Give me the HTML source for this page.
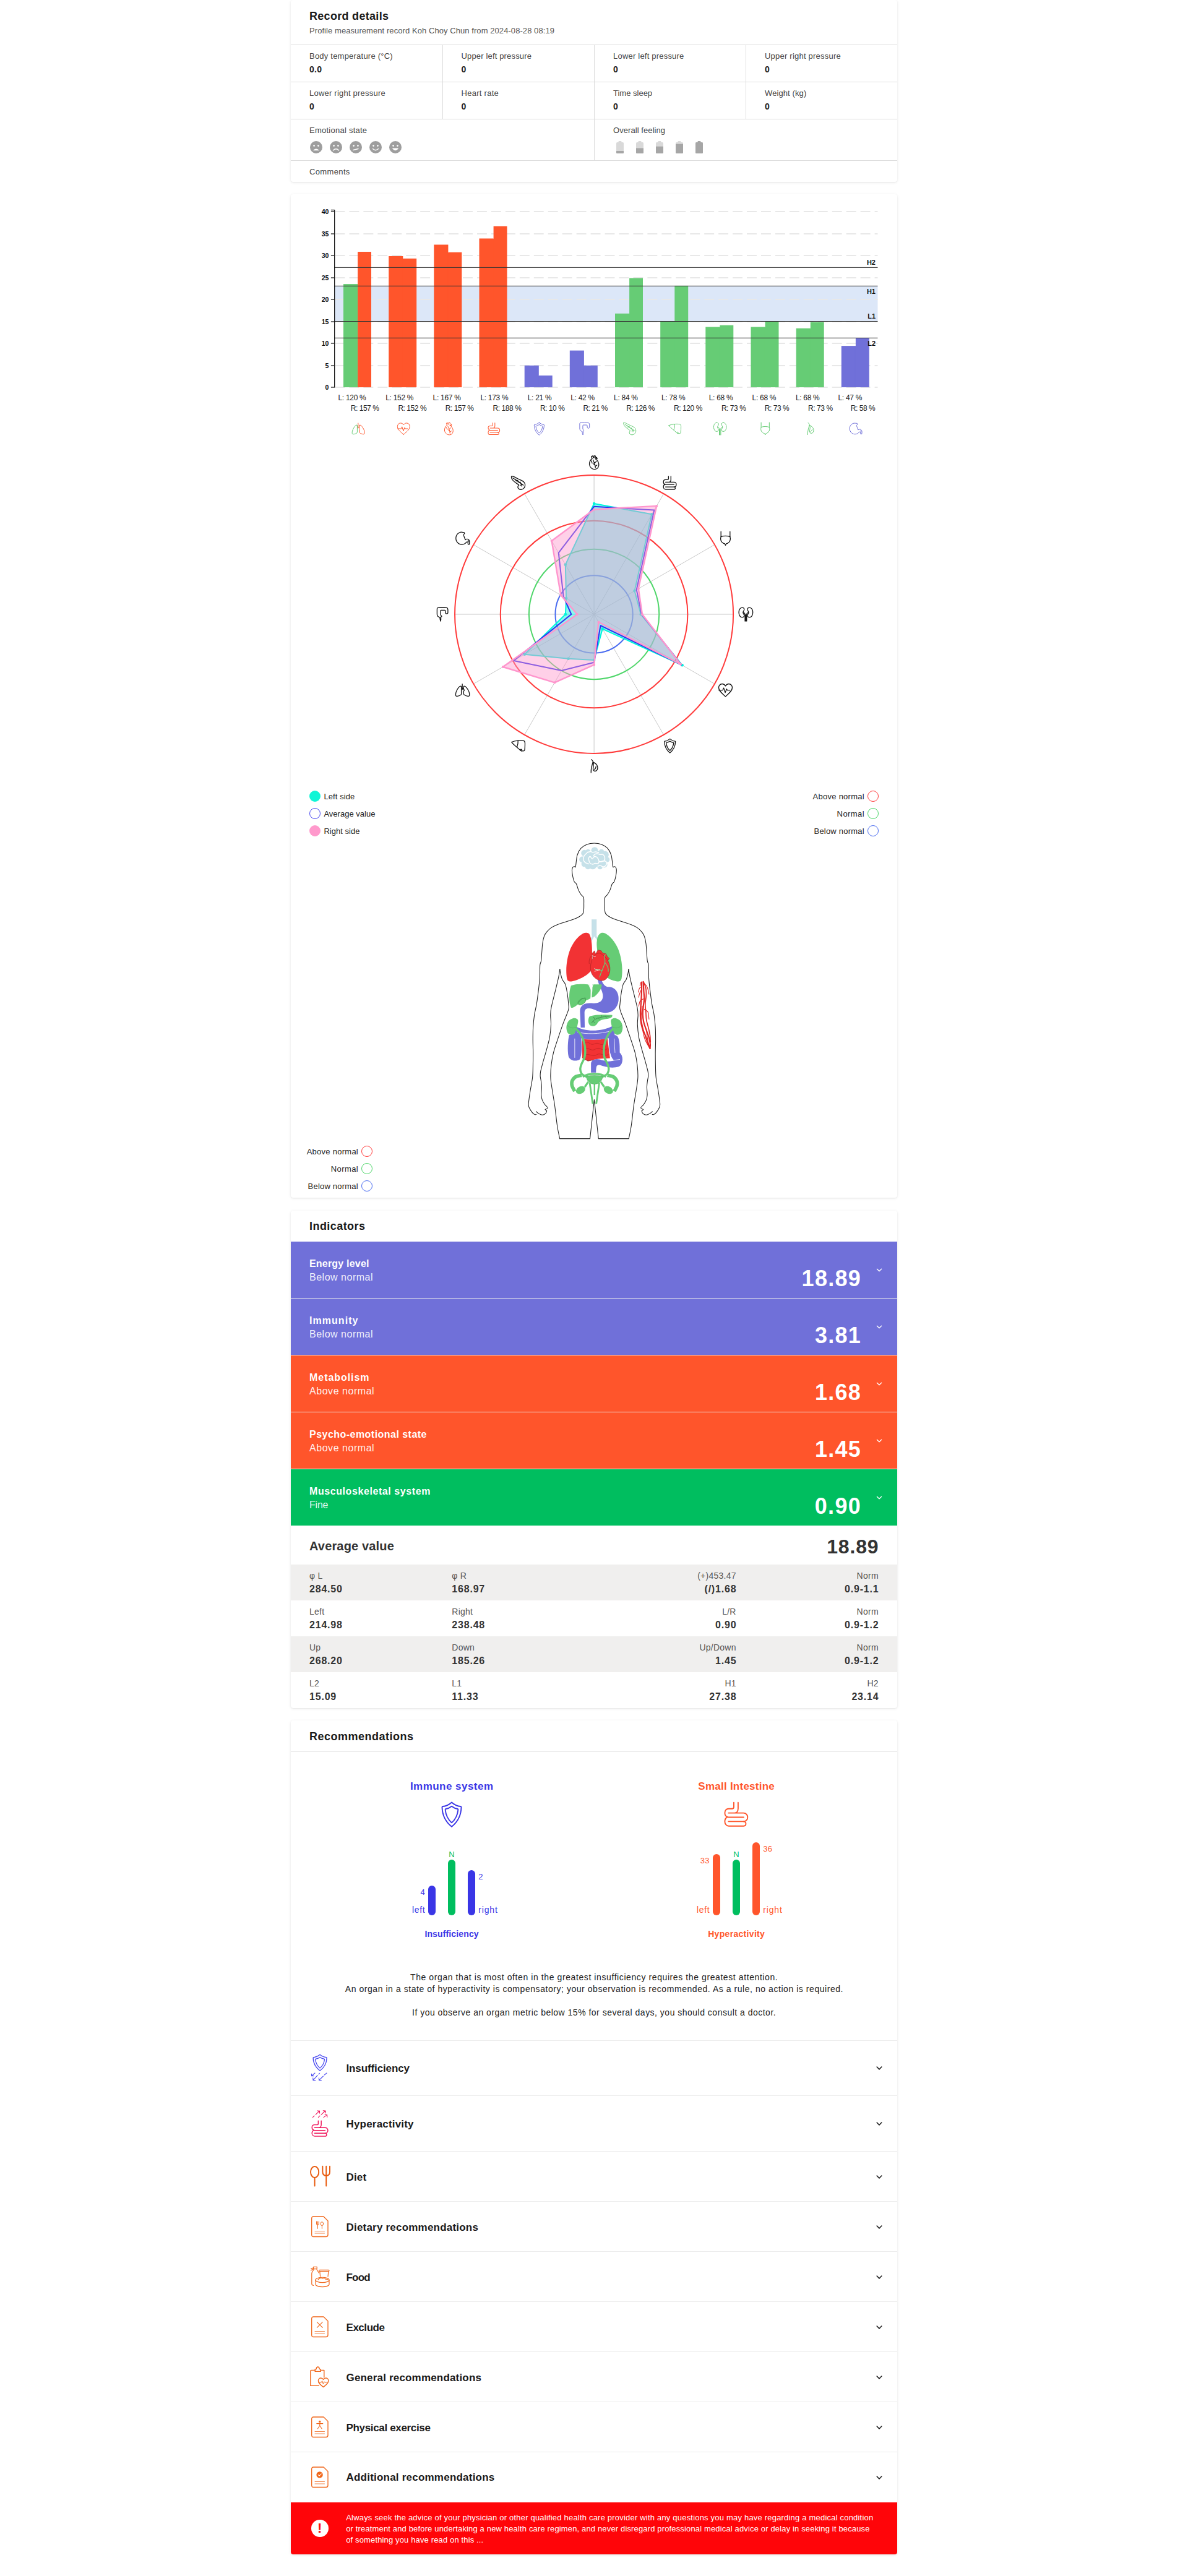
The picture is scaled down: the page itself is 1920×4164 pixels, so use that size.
<!DOCTYPE html>
<html lang="en"><head><meta charset="utf-8"><title>Record details</title><style>html,body{margin:0;padding:0}
body{width:1920px;height:4164px;position:relative;background:#fff;font-family:"Liberation Sans",sans-serif;overflow-x:hidden}
.card{position:absolute;background:#fff;border-radius:4px;box-shadow:0 1px 5px rgba(0,0,0,.08),0 1px 2px rgba(0,0,0,.05)}
.t{position:absolute;white-space:nowrap}
svg{display:block}
</style></head>
<body>
<div class="card" style="left:470px;top:0px;width:980px;height:294px"></div>
<div class="t" style="left:500.0px;top:15px;font-size:18px;line-height:22px;color:#1a1a1a;letter-spacing:0.30px;font-weight:700;">Record details</div>
<div class="t" style="left:500.0px;top:41px;font-size:13px;line-height:17px;color:#555;letter-spacing:0.07px;">Profile measurement record Koh Choy Chun from 2024-08-28 08:19</div>
<div style="position:absolute;left:470px;top:72px;width:980px;height:1px;background:#dcdcdc"></div>
<div style="position:absolute;left:470px;top:132px;width:980px;height:1px;background:#dcdcdc"></div>
<div style="position:absolute;left:470px;top:192px;width:980px;height:1px;background:#dcdcdc"></div>
<div style="position:absolute;left:470px;top:259px;width:980px;height:1px;background:#dcdcdc"></div>
<div style="position:absolute;left:715px;top:73px;width:1px;height:119px;background:#dcdcdc"></div>
<div style="position:absolute;left:960px;top:73px;width:1px;height:186px;background:#dcdcdc"></div>
<div style="position:absolute;left:1205px;top:73px;width:1px;height:119px;background:#dcdcdc"></div>
<div class="t" style="left:500.0px;top:82px;font-size:13px;line-height:17px;color:#444;letter-spacing:0.22px;">Body temperature (°C)</div>
<div class="t" style="left:500.0px;top:103px;font-size:14px;line-height:18px;color:#222;letter-spacing:0.28px;font-weight:700;">0.0</div>
<div class="t" style="left:745.5px;top:82px;font-size:13px;line-height:17px;color:#444;letter-spacing:0.16px;">Upper left pressure</div>
<div class="t" style="left:745.5px;top:103px;font-size:14px;line-height:18px;color:#222;letter-spacing:0.28px;font-weight:700;">0</div>
<div class="t" style="left:991.0px;top:82px;font-size:13px;line-height:17px;color:#444;letter-spacing:0.21px;">Lower left pressure</div>
<div class="t" style="left:991.0px;top:103px;font-size:14px;line-height:18px;color:#222;letter-spacing:0.28px;font-weight:700;">0</div>
<div class="t" style="left:1236.0px;top:82px;font-size:13px;line-height:17px;color:#444;letter-spacing:0.22px;">Upper right pressure</div>
<div class="t" style="left:1236.0px;top:103px;font-size:14px;line-height:18px;color:#222;letter-spacing:0.28px;font-weight:700;">0</div>
<div class="t" style="left:500.0px;top:142px;font-size:13px;line-height:17px;color:#444;letter-spacing:0.22px;">Lower right pressure</div>
<div class="t" style="left:500.0px;top:163px;font-size:14px;line-height:18px;color:#222;letter-spacing:0.28px;font-weight:700;">0</div>
<div class="t" style="left:745.5px;top:142px;font-size:13px;line-height:17px;color:#444;letter-spacing:0.28px;">Heart rate</div>
<div class="t" style="left:745.5px;top:163px;font-size:14px;line-height:18px;color:#222;letter-spacing:0.28px;font-weight:700;">0</div>
<div class="t" style="left:991.0px;top:142px;font-size:13px;line-height:17px;color:#444;letter-spacing:0.00px;">Time sleep</div>
<div class="t" style="left:991.0px;top:163px;font-size:14px;line-height:18px;color:#222;letter-spacing:0.28px;font-weight:700;">0</div>
<div class="t" style="left:1236.0px;top:142px;font-size:13px;line-height:17px;color:#444;letter-spacing:0.10px;">Weight (kg)</div>
<div class="t" style="left:1236.0px;top:163px;font-size:14px;line-height:18px;color:#222;letter-spacing:0.28px;font-weight:700;">0</div>
<div class="t" style="left:500.0px;top:202px;font-size:13px;line-height:17px;color:#444;letter-spacing:0.25px;">Emotional state</div>
<div class="t" style="left:991.0px;top:202px;font-size:13px;line-height:17px;color:#444;letter-spacing:0.07px;">Overall feeling</div>
<div class="t" style="left:500.0px;top:269px;font-size:13px;line-height:17px;color:#444;letter-spacing:0.36px;">Comments</div>
<svg style="position:absolute;left:500.5px;top:227.6px" width="20" height="20" viewBox="0 0 20 20"><circle cx="10" cy="10" r="10" fill="#9e9e9e"/><circle cx="6.6" cy="7.6" r="1.4" fill="#fff"/><circle cx="13.4" cy="7.6" r="1.4" fill="#fff"/><path d="M5 15.3 Q10 9.5 15 15.3 Z" fill="#fff"/></svg>
<svg style="position:absolute;left:532.5px;top:227.6px" width="20" height="20" viewBox="0 0 20 20"><circle cx="10" cy="10" r="10" fill="#9e9e9e"/><circle cx="6.6" cy="7.6" r="1.4" fill="#fff"/><circle cx="13.4" cy="7.6" r="1.4" fill="#fff"/><path d="M5.5 15 Q10 10.5 14.5 15" fill="none" stroke="#fff" stroke-width="1.4" stroke-linecap="round"/></svg>
<svg style="position:absolute;left:564.5px;top:227.6px" width="20" height="20" viewBox="0 0 20 20"><circle cx="10" cy="10" r="10" fill="#9e9e9e"/><circle cx="6.6" cy="7.6" r="1.4" fill="#fff"/><circle cx="13.4" cy="7.6" r="1.4" fill="#fff"/><path d="M6 14.5 L14 12.5" fill="none" stroke="#fff" stroke-width="1.4" stroke-linecap="round"/></svg>
<svg style="position:absolute;left:596.5px;top:227.6px" width="20" height="20" viewBox="0 0 20 20"><circle cx="10" cy="10" r="10" fill="#9e9e9e"/><circle cx="6.6" cy="7.6" r="1.4" fill="#fff"/><circle cx="13.4" cy="7.6" r="1.4" fill="#fff"/><path d="M5.5 12.5 Q10 17 14.5 12.5" fill="none" stroke="#fff" stroke-width="1.4" stroke-linecap="round"/></svg>
<svg style="position:absolute;left:628.5px;top:227.6px" width="20" height="20" viewBox="0 0 20 20"><circle cx="10" cy="10" r="10" fill="#9e9e9e"/><circle cx="6.6" cy="7.6" r="1.4" fill="#fff"/><circle cx="13.4" cy="7.6" r="1.4" fill="#fff"/><path d="M4.8 11.5 Q10 19 15.2 11.5 Z" fill="#fff"/></svg>
<svg style="position:absolute;left:996px;top:228px" width="12" height="20" viewBox="0 0 12 20"><rect x="3.5" y="0" width="5" height="3" rx="1" fill="#d9d9d9"/><rect x="0" y="2" width="12" height="18" rx="1.5" fill="#d9d9d9"/><path d="M0 16.0 H12 V18.5 Q12 20 10.5 20 H1.5 Q0 20 0 18.5 Z" fill="#a6a6a6"/></svg>
<svg style="position:absolute;left:1028px;top:228px" width="12" height="20" viewBox="0 0 12 20"><rect x="3.5" y="0" width="5" height="3" rx="1" fill="#d9d9d9"/><rect x="0" y="2" width="12" height="18" rx="1.5" fill="#d9d9d9"/><path d="M0 11.4 H12 V18.5 Q12 20 10.5 20 H1.5 Q0 20 0 18.5 Z" fill="#a6a6a6"/></svg>
<svg style="position:absolute;left:1060px;top:228px" width="12" height="20" viewBox="0 0 12 20"><rect x="3.5" y="0" width="5" height="3" rx="1" fill="#d9d9d9"/><rect x="0" y="2" width="12" height="18" rx="1.5" fill="#d9d9d9"/><path d="M0 8.8 H12 V18.5 Q12 20 10.5 20 H1.5 Q0 20 0 18.5 Z" fill="#a6a6a6"/></svg>
<svg style="position:absolute;left:1092px;top:228px" width="12" height="20" viewBox="0 0 12 20"><rect x="3.5" y="0" width="5" height="3" rx="1" fill="#d9d9d9"/><rect x="0" y="2" width="12" height="18" rx="1.5" fill="#d9d9d9"/><path d="M0 4.7 H12 V18.5 Q12 20 10.5 20 H1.5 Q0 20 0 18.5 Z" fill="#a6a6a6"/></svg>
<svg style="position:absolute;left:1124px;top:228px" width="12" height="20" viewBox="0 0 12 20"><rect x="3.5" y="0" width="5" height="3" rx="1" fill="#a6a6a6"/><rect x="0" y="2" width="12" height="18" rx="1.5" fill="#d9d9d9"/><rect x="0" y="2" width="12" height="18" rx="1.5" fill="#a6a6a6"/></svg>
<div class="card" style="left:470px;top:314px;width:980px;height:1622px"></div>
<svg style="position:absolute;left:0;top:300px" width="1920" height="440" viewBox="0 300 1920 440"><rect x="540.5" y="462.3" width="878.0" height="57.4" fill="#dce7f8"/><line x1="541.5" x2="1418.5" y1="626" y2="626" stroke="#e8e8e8" stroke-width="2" stroke-dasharray="15.9 7.05"/><line x1="541.5" x2="1418.5" y1="591" y2="591" stroke="#e8e8e8" stroke-width="2" stroke-dasharray="15.9 7.05"/><line x1="541.5" x2="1418.5" y1="555" y2="555" stroke="#e8e8e8" stroke-width="2" stroke-dasharray="15.9 7.05"/><line x1="541.5" x2="1418.5" y1="520" y2="520" stroke="#e8e8e8" stroke-width="2" stroke-dasharray="15.9 7.05"/><line x1="541.5" x2="1418.5" y1="484" y2="484" stroke="#e8e8e8" stroke-width="2" stroke-dasharray="15.9 7.05"/><line x1="541.5" x2="1418.5" y1="449" y2="449" stroke="#e8e8e8" stroke-width="2" stroke-dasharray="15.9 7.05"/><line x1="541.5" x2="1418.5" y1="413" y2="413" stroke="#e8e8e8" stroke-width="2" stroke-dasharray="15.9 7.05"/><line x1="541.5" x2="1418.5" y1="378" y2="378" stroke="#e8e8e8" stroke-width="2" stroke-dasharray="15.9 7.05"/><line x1="541.5" x2="1418.5" y1="342" y2="342" stroke="#e8e8e8" stroke-width="2" stroke-dasharray="15.9 7.05"/><rect x="555.0" y="459.1" width="23.1" height="166.9" fill="#66cc75"/><rect x="578.1" y="407.0" width="21.9" height="219.0" fill="#ff552b"/><rect x="628.2" y="414.0" width="23.1" height="212.0" fill="#ff552b"/><rect x="650.2" y="418.5" width="2.2" height="207.5" fill="#ff552b"/><rect x="651.3" y="417.9" width="21.9" height="208.1" fill="#ff552b"/><rect x="701.3" y="395.5" width="23.1" height="230.5" fill="#ff552b"/><rect x="723.3" y="408.4" width="2.2" height="217.6" fill="#ff552b"/><rect x="724.4" y="407.8" width="21.9" height="218.2" fill="#ff552b"/><rect x="774.5" y="385.5" width="23.1" height="240.5" fill="#ff552b"/><rect x="796.5" y="386.1" width="2.2" height="239.9" fill="#ff552b"/><rect x="797.6" y="365.6" width="21.9" height="260.4" fill="#ff552b"/><rect x="847.7" y="590.8" width="23.1" height="35.2" fill="#7070d9"/><rect x="869.7" y="607.6" width="2.2" height="18.4" fill="#7070d9"/><rect x="870.8" y="607.0" width="21.9" height="19.0" fill="#7070d9"/><rect x="920.8" y="566.6" width="23.1" height="59.4" fill="#7070d9"/><rect x="942.8" y="591.4" width="2.2" height="34.6" fill="#7070d9"/><rect x="943.9" y="590.8" width="21.9" height="35.2" fill="#7070d9"/><rect x="994.0" y="506.8" width="23.1" height="119.2" fill="#66cc75"/><rect x="1016.0" y="507.4" width="2.2" height="118.6" fill="#66cc75"/><rect x="1017.1" y="449.5" width="21.9" height="176.5" fill="#66cc75"/><rect x="1067.2" y="519.3" width="23.1" height="106.7" fill="#66cc75"/><rect x="1089.2" y="519.9" width="2.2" height="106.1" fill="#66cc75"/><rect x="1090.3" y="461.9" width="21.9" height="164.1" fill="#66cc75"/><rect x="1140.3" y="528.5" width="23.1" height="97.5" fill="#66cc75"/><rect x="1162.3" y="529.1" width="2.2" height="96.9" fill="#66cc75"/><rect x="1163.4" y="525.7" width="21.9" height="100.3" fill="#66cc75"/><rect x="1213.5" y="528.5" width="23.1" height="97.5" fill="#66cc75"/><rect x="1235.5" y="529.1" width="2.2" height="96.9" fill="#66cc75"/><rect x="1236.6" y="519.3" width="21.9" height="106.7" fill="#66cc75"/><rect x="1286.7" y="530.7" width="23.1" height="95.3" fill="#66cc75"/><rect x="1308.7" y="531.3" width="2.2" height="94.7" fill="#66cc75"/><rect x="1309.8" y="520.7" width="21.9" height="105.3" fill="#66cc75"/><rect x="1359.8" y="559.1" width="23.1" height="66.9" fill="#7070d9"/><rect x="1381.8" y="559.7" width="2.2" height="66.3" fill="#7070d9"/><rect x="1382.9" y="546.0" width="21.9" height="80.0" fill="#7070d9"/><line x1="540.5" x2="1418.5" y1="432.4" y2="432.4" stroke="#333" stroke-width="1"/><line x1="540.5" x2="1418.5" y1="462.3" y2="462.3" stroke="#333" stroke-width="1"/><line x1="540.5" x2="1418.5" y1="519.5" y2="519.5" stroke="#333" stroke-width="1"/><line x1="540.5" x2="1418.5" y1="546.3" y2="546.3" stroke="#333" stroke-width="1"/><line x1="540.7" x2="540.7" y1="339.3" y2="626.5" stroke="#000" stroke-width="1.2"/><line x1="534.9" x2="540.7" y1="339.5" y2="339.5" stroke="#000" stroke-width="1.2"/><line x1="534.9" x2="540.5" y1="626" y2="626" stroke="#111" stroke-width="1.2"/><line x1="534.9" x2="540.5" y1="591" y2="591" stroke="#111" stroke-width="1.2"/><line x1="534.9" x2="540.5" y1="555" y2="555" stroke="#111" stroke-width="1.2"/><line x1="534.9" x2="540.5" y1="520" y2="520" stroke="#111" stroke-width="1.2"/><line x1="534.9" x2="540.5" y1="484" y2="484" stroke="#111" stroke-width="1.2"/><line x1="534.9" x2="540.5" y1="449" y2="449" stroke="#111" stroke-width="1.2"/><line x1="534.9" x2="540.5" y1="413" y2="413" stroke="#111" stroke-width="1.2"/><line x1="534.9" x2="540.5" y1="378" y2="378" stroke="#111" stroke-width="1.2"/><line x1="534.9" x2="540.5" y1="342" y2="342" stroke="#111" stroke-width="1.2"/><g transform="translate(567.2 681.0) scale(1.0000)" fill="none" stroke-linecap="round" stroke-linejoin="round"><path d="M11.6 3 V11 M11.6 9 L13.2 10.4" stroke="#ff552b" stroke-width="1.00"/><path d="M9.8 6.4 C8.6 5.6 7.4 6.6 6 8.4 C3.6 11.6 1.9 15.6 1.9 18.6 C1.9 20.4 2.8 21 4.4 20.8 C6.4 20.6 8.6 19.8 9.8 18.6 C10.2 18.2 10.2 17.6 10.2 17 V7.4 C10.2 7 10.1 6.6 9.8 6.4 Z" stroke="#66cc75" stroke-width="1.00"/><path d="M13.8 6.4 C15 5.6 16.4 6.6 17.8 8.4 C20.4 11.6 22.1 15.6 22.1 18.6 C22.1 20.4 21.2 21 19.6 20.8 C17.6 20.6 15.4 19.8 14.2 18.6 C13.8 18.2 13.6 17.6 13.6 17 V13.4 C14.6 13 14.8 11.4 13.6 10.8 V7.4 C13.6 7 13.6 6.6 13.8 6.4 Z" stroke="#ff552b" stroke-width="1.00"/></g><g transform="translate(640.3 681.0) scale(1.0000)" fill="none" stroke-linecap="round" stroke-linejoin="round"><path d="M12 21.3 C5 15.5 2.1 12.3 2.1 8.4 C2.1 5.2 4.4 2.9 7.1 2.9 C9.2 2.9 10.9 4 12 5.9 C13.1 4 14.8 2.9 16.9 2.9 C19.6 2.9 21.9 5.2 21.9 8.4 C21.9 12.3 19 15.5 12 21.3 Z" stroke="#ff552b" stroke-width="1.00"/><path d="M2.3 12 H8 L9.4 8.8 L11.6 15.6 L13.6 10.2 L14.6 12 H18.6" stroke="#ff552b" stroke-width="1.00"/></g><g transform="translate(713.3 681.0) scale(1.0000)" fill="none" stroke-linecap="round" stroke-linejoin="round"><path d="M9.2 6.2 C6.6 8.2 4.8 11.2 5.2 15 C5.8 19.2 9.6 22.1 13.4 21.9 C17.2 21.7 19.3 18.2 18.9 14.2 C18.5 10.6 16.2 8 13.8 6.4" stroke="#ff552b" stroke-width="1.00"/><path d="M9.2 6.2 L8 3.2 L9.8 2.2 L11 5 L12.2 4.6 L11.6 2.4 L13.6 2 L14.4 4.6 L15.8 4.4 L16.6 6.6 L13.8 6.4" stroke="#ff552b" stroke-width="1.00"/><path d="M10.5 8 C12 11 13.5 14 14 19.4 M12.6 12.4 L15.6 10.4 M13.4 15.4 L10.6 13.6 M13.8 17.4 L16.2 15.8 M7.4 9 C8.4 10.4 9 11.4 9.2 12.8" stroke="#ff552b" stroke-width="1.00"/></g><g transform="translate(786.4 681.0) scale(1.0000)" fill="none" stroke-linecap="round" stroke-linejoin="round"><g transform="translate(2.1 2.0) scale(0.495 0.5)"><path d="M15.8 0.8 V8.2 C15.8 10 14.8 10.9 13 10.9 H7.2 C3.4 10.9 0.9 13.8 0.9 17.6 C0.9 20.8 2.6 23.4 5.4 24.4 C6 24.7 6.6 24.8 7.2 24.8 H32.2" stroke="#ff552b" stroke-width="2.01"/><path d="M22.9 0.8 V10.6 C22.9 14.6 20.6 17.85 17 17.85 M7 17.85 H31.8 C35.8 17.85 38.7 20.8 38.7 24.8 C38.7 28.8 35.8 31.8 31.8 31.8 H7" stroke="#ff552b" stroke-width="2.01"/><path d="M5.4 24.4 C2.6 25.6 0.9 28.4 0.9 31.8 C0.9 35.8 3.6 39.2 7.4 39.2 H32 C34.2 39.2 35.8 37.6 35.8 35.5 C35.8 33.4 34.2 31.8 32 31.8" stroke="#ff552b" stroke-width="2.01"/></g></g><g transform="translate(859.4 681.0) scale(1.0000)" fill="none" stroke-linecap="round" stroke-linejoin="round"><path d="M12 2.06 C9.9 3.9 6.8 5.3 4.5 5.44 Q3.94 5.5 3.94 6.06 C4.1 12.2 6.3 17.9 12 22.4 C17.7 17.9 19.9 12.2 20.06 6.06 Q20.06 5.5 19.5 5.44 C17.2 5.3 14.1 3.9 12 2.06 Z" stroke="#7070d9" stroke-width="1.00"/><path d="M12 5.28 C10.4 6.5 8.6 7.3 7.1 7.5 Q6.6 7.57 6.6 8.14 C7 12.2 8.6 16.1 12 19.1 C15.4 16.1 17 12.2 17.4 8.14 Q17.4 7.57 16.9 7.5 C15.4 7.3 13.6 6.5 12 5.28 Z" stroke="#7070d9" stroke-width="1.00"/></g><g transform="translate(932.5 681.0) scale(1.0000)" fill="none" stroke-linecap="round" stroke-linejoin="round"><path d="M5.5 2.5 C9 1.8 15 1.8 18.5 2.5 C20 2.9 20.2 4.5 20.2 6 V9.6 C20.2 10.8 19.4 11.2 18.4 11.2 C17.2 11.2 16.6 10.6 16.6 9.4 V7.2 C16.6 6.4 16.2 6 15.4 6 H10.4 C9.6 6 9.4 6.4 9.4 7.2 V12 C9.4 13 9.8 13.6 10.6 14 C11.4 14.4 11.2 15.6 10.4 15.8 L9.8 16 C10.2 18 10 20.4 9.6 22 C8.8 20.6 8.6 18 8.4 16.4 C6.4 16 4.6 14.6 4.4 12 V5 C4.2 3.6 4.6 2.8 5.5 2.5 Z" stroke="#7070d9" stroke-width="1.00"/></g><g transform="translate(1005.6 681.0) scale(1.0000)" fill="none" stroke-linecap="round" stroke-linejoin="round"><path d="M2.2 2.6 C4 1.6 7 3.4 10.4 5.4 C13.6 7.2 17.6 8 20.2 10.6 C22.6 13 22.8 17 20.6 19.6 C18.4 22.2 14.4 22.6 12.4 20.4 C10.8 18.6 11.6 16.4 13.2 15.4 C11.2 13.4 7.6 11.6 5.4 9.4 C3.4 7.4 1.8 5 2.2 2.6 Z" stroke="#66cc75" stroke-width="1.00"/><path d="M4.4 5 C8 7.6 13 10 17.6 14 M7.6 6.2 L7.8 8 M9 9.4 L10.8 9 M11.4 8.4 L11.6 10.4 M13 12 L15 11.4 M15.2 10.8 L15.4 13 M17.6 14 L17.4 17 M17.6 14 L19.8 15.4 M17.6 14 L15.4 15.6" stroke="#66cc75" stroke-width="1.00"/></g><g transform="translate(1078.6 681.0) scale(1.0000)" fill="none" stroke-linecap="round" stroke-linejoin="round"><path d="M2.4 6.8 C8 4.2 16 4 20 4.8 C21.6 5.2 22 6.6 22 8.4 C22 12 22 15.6 21.4 18.6 C21.2 19.4 20.6 19.6 19.8 19.6 H16.6 C15.4 19.4 14.8 18.4 13.8 17.4 C10.8 14.4 5.4 10.8 2.4 6.8 Z" stroke="#66cc75" stroke-width="1.00"/><path d="M11.8 4.6 C12 7.4 11.6 10.6 10.4 13.8 M15.4 18.8 C15 17.8 15.8 17 16.8 17.4 C17.8 17.8 17.6 19 17 19.6" stroke="#66cc75" stroke-width="1.00"/></g><g transform="translate(1151.7 681.0) scale(1.0000)" fill="none" stroke-linecap="round" stroke-linejoin="round"><path d="M6.6 2.2 C3.8 2.2 1.8 5.2 1.8 9.2 C1.8 13.2 3.8 16.4 6.6 16.4 C8.6 16.4 9.8 15 9.6 13.4 C9.4 12 8 11.4 8 9.4 C8 7.4 9.4 6.8 9.6 5.2 C9.8 3.4 8.6 2.2 6.6 2.2 Z" stroke="#66cc75" stroke-width="1.00"/><path d="M17.4 2.2 C20.2 2.2 22.2 5.2 22.2 9.2 C22.2 13.2 20.2 16.4 17.4 16.4 C15.4 16.4 14.2 15 14.4 13.4 C14.6 12 16 11.4 16 9.4 C16 7.4 14.6 6.8 14.4 5.2 C14.2 3.4 15.4 2.2 17.4 2.2 Z" stroke="#66cc75" stroke-width="1.00"/><path d="M8 9.4 C9.8 9.6 10.8 10.8 10.8 12.6 V22 M16 9.4 C14.2 9.6 13.2 10.8 13.2 12.6 V22 M12 12.6 V22" stroke="#66cc75" stroke-width="1.00"/></g><g transform="translate(1224.7 681.0) scale(1.0000)" fill="none" stroke-linecap="round" stroke-linejoin="round"><path d="M5.4 2 V9.6 C4.6 12 4.8 15 6.6 17.2 C8 18.8 10 19.6 11 19.8 L12 22 L13 19.8 C14 19.6 16 18.8 17.4 17.2 C19.2 15 19.4 12 18.6 9.6 V2" stroke="#66cc75" stroke-width="1.00"/><path d="M5.4 9.6 C8 8 16 8 18.6 9.6" stroke="#66cc75" stroke-width="1.00"/></g><g transform="translate(1297.8 681.0) scale(1.0000)" fill="none" stroke-linecap="round" stroke-linejoin="round"><path d="M8.2 2.4 C9.4 3.6 10.4 4.8 10.8 6.4 C13.6 7.6 16.8 10.4 17.2 13.6 C17.6 16.8 15.8 19.4 13.4 19.4 C11.4 19.4 10.4 17.6 10.6 15.6 C10.8 12.8 12.4 10.6 10.8 6.4" stroke="#66cc75" stroke-width="1.00"/><path d="M10.2 6.4 C9.4 10.4 7.2 15 7.6 21.6 M12.2 16.8 C13.6 16.2 14.8 14.6 14.8 12.6" stroke="#66cc75" stroke-width="1.00"/></g><g transform="translate(1370.9 681.0) scale(1.0000)" fill="none" stroke-linecap="round" stroke-linejoin="round"><path d="M12.8 3.4 C9 1.8 3.4 4.6 2.4 10 C1.4 15.6 5.4 20.6 10.6 20.8 C14 20.8 16 19.6 17.2 18 C18 17 19 16.8 19.8 17.4 L20 20.6 H21.8 C22.4 18 22.4 15.6 21 14 C19.6 12.6 17.4 12.6 16 14 C15.2 11.6 14.2 9.6 13.6 7.6 C13.4 6.6 13.8 5.6 14.8 5.2 L14.4 3.4 C13.8 3.2 13.2 3.2 12.8 3.4 Z" stroke="#7070d9" stroke-width="1.00"/><path d="M20 17.4 C20.6 16.6 20.6 15.6 20 15" stroke="#7070d9" stroke-width="1.00"/></g></svg>
<div class="t" style="left:525.6px;top:619px;font-size:10.5px;line-height:14px;color:#111;letter-spacing:0.00px;font-weight:700;">0</div>
<div class="t" style="left:525.6px;top:584px;font-size:10.5px;line-height:14px;color:#111;letter-spacing:0.00px;font-weight:700;">5</div>
<div class="t" style="left:519.7px;top:548px;font-size:10.5px;line-height:14px;color:#111;letter-spacing:0.00px;font-weight:700;">10</div>
<div class="t" style="left:519.7px;top:513px;font-size:10.5px;line-height:14px;color:#111;letter-spacing:0.00px;font-weight:700;">15</div>
<div class="t" style="left:519.7px;top:477px;font-size:10.5px;line-height:14px;color:#111;letter-spacing:0.00px;font-weight:700;">20</div>
<div class="t" style="left:519.7px;top:442px;font-size:10.5px;line-height:14px;color:#111;letter-spacing:0.00px;font-weight:700;">25</div>
<div class="t" style="left:519.7px;top:406px;font-size:10.5px;line-height:14px;color:#111;letter-spacing:0.00px;font-weight:700;">30</div>
<div class="t" style="left:519.7px;top:371px;font-size:10.5px;line-height:14px;color:#111;letter-spacing:0.00px;font-weight:700;">35</div>
<div class="t" style="left:519.7px;top:335px;font-size:10.5px;line-height:14px;color:#111;letter-spacing:0.00px;font-weight:700;">40</div>
<div class="t" style="left:1400.9px;top:417px;font-size:11px;line-height:14px;color:#111;letter-spacing:0.00px;font-weight:700;">H2</div>
<div class="t" style="left:1400.9px;top:464px;font-size:11px;line-height:14px;color:#111;letter-spacing:0.00px;font-weight:700;">H1</div>
<div class="t" style="left:1402.2px;top:504px;font-size:11px;line-height:14px;color:#111;letter-spacing:0.00px;font-weight:700;">L1</div>
<div class="t" style="left:1402.2px;top:548px;font-size:11px;line-height:14px;color:#111;letter-spacing:0.00px;font-weight:700;">L2</div>
<div class="t" style="left:546.5px;top:635px;font-size:12px;line-height:16px;color:#222;letter-spacing:-0.30px;">L: 120 %</div>
<div class="t" style="left:566.7px;top:652px;font-size:12px;line-height:16px;color:#222;letter-spacing:-0.45px;">R: 157 %</div>
<div class="t" style="left:623.2px;top:635px;font-size:12px;line-height:16px;color:#222;letter-spacing:-0.30px;">L: 152 %</div>
<div class="t" style="left:643.4px;top:652px;font-size:12px;line-height:16px;color:#222;letter-spacing:-0.45px;">R: 152 %</div>
<div class="t" style="left:699.6px;top:635px;font-size:12px;line-height:16px;color:#222;letter-spacing:-0.30px;">L: 167 %</div>
<div class="t" style="left:719.8px;top:652px;font-size:12px;line-height:16px;color:#222;letter-spacing:-0.45px;">R: 157 %</div>
<div class="t" style="left:776.4px;top:635px;font-size:12px;line-height:16px;color:#222;letter-spacing:-0.30px;">L: 173 %</div>
<div class="t" style="left:796.6px;top:652px;font-size:12px;line-height:16px;color:#222;letter-spacing:-0.45px;">R: 188 %</div>
<div class="t" style="left:852.7px;top:635px;font-size:12px;line-height:16px;color:#222;letter-spacing:-0.30px;">L: 21 %</div>
<div class="t" style="left:872.9px;top:652px;font-size:12px;line-height:16px;color:#222;letter-spacing:-0.45px;">R: 10 %</div>
<div class="t" style="left:922.2px;top:635px;font-size:12px;line-height:16px;color:#222;letter-spacing:-0.30px;">L: 42 %</div>
<div class="t" style="left:942.4px;top:652px;font-size:12px;line-height:16px;color:#222;letter-spacing:-0.45px;">R: 21 %</div>
<div class="t" style="left:992.1px;top:635px;font-size:12px;line-height:16px;color:#222;letter-spacing:-0.30px;">L: 84 %</div>
<div class="t" style="left:1012.3px;top:652px;font-size:12px;line-height:16px;color:#222;letter-spacing:-0.45px;">R: 126 %</div>
<div class="t" style="left:1068.9px;top:635px;font-size:12px;line-height:16px;color:#222;letter-spacing:-0.30px;">L: 78 %</div>
<div class="t" style="left:1089.1px;top:652px;font-size:12px;line-height:16px;color:#222;letter-spacing:-0.45px;">R: 120 %</div>
<div class="t" style="left:1145.7px;top:635px;font-size:12px;line-height:16px;color:#222;letter-spacing:-0.30px;">L: 68 %</div>
<div class="t" style="left:1165.9px;top:652px;font-size:12px;line-height:16px;color:#222;letter-spacing:-0.45px;">R: 73 %</div>
<div class="t" style="left:1215.6px;top:635px;font-size:12px;line-height:16px;color:#222;letter-spacing:-0.30px;">L: 68 %</div>
<div class="t" style="left:1235.8px;top:652px;font-size:12px;line-height:16px;color:#222;letter-spacing:-0.45px;">R: 73 %</div>
<div class="t" style="left:1285.9px;top:635px;font-size:12px;line-height:16px;color:#222;letter-spacing:-0.30px;">L: 68 %</div>
<div class="t" style="left:1306.1px;top:652px;font-size:12px;line-height:16px;color:#222;letter-spacing:-0.45px;">R: 73 %</div>
<div class="t" style="left:1354.5px;top:635px;font-size:12px;line-height:16px;color:#222;letter-spacing:-0.30px;">L: 47 %</div>
<div class="t" style="left:1374.7px;top:652px;font-size:12px;line-height:16px;color:#222;letter-spacing:-0.45px;">R: 58 %</div>
<svg style="position:absolute;left:660px;top:720px" width="600" height="560" viewBox="660 720 600 560"><line x1="960.07" y1="992.95" x2="960.1" y2="768.0" stroke="#c8c8c8" stroke-width="1"/><line x1="960.07" y1="992.95" x2="1072.6" y2="798.1" stroke="#c8c8c8" stroke-width="1"/><line x1="960.07" y1="992.95" x2="1154.9" y2="880.5" stroke="#c8c8c8" stroke-width="1"/><line x1="960.07" y1="992.95" x2="1185.1" y2="993.0" stroke="#c8c8c8" stroke-width="1"/><line x1="960.07" y1="992.95" x2="1154.9" y2="1105.5" stroke="#c8c8c8" stroke-width="1"/><line x1="960.07" y1="992.95" x2="1072.6" y2="1187.8" stroke="#c8c8c8" stroke-width="1"/><line x1="960.07" y1="992.95" x2="960.1" y2="1218.0" stroke="#c8c8c8" stroke-width="1"/><line x1="960.07" y1="992.95" x2="847.6" y2="1187.8" stroke="#c8c8c8" stroke-width="1"/><line x1="960.07" y1="992.95" x2="765.2" y2="1105.5" stroke="#c8c8c8" stroke-width="1"/><line x1="960.07" y1="992.95" x2="735.1" y2="993.0" stroke="#c8c8c8" stroke-width="1"/><line x1="960.07" y1="992.95" x2="765.2" y2="880.5" stroke="#c8c8c8" stroke-width="1"/><line x1="960.07" y1="992.95" x2="847.6" y2="798.1" stroke="#c8c8c8" stroke-width="1"/><circle cx="960.07" cy="992.95" r="225" fill="none" stroke="#ff3b3b" stroke-width="2"/><circle cx="960.07" cy="992.95" r="151.3" fill="none" stroke="#ff3b3b" stroke-width="2"/><circle cx="960.07" cy="992.95" r="105.2" fill="none" stroke="#4fd66a" stroke-width="2"/><circle cx="960.07" cy="992.95" r="62.6" fill="none" stroke="#4a6cf0" stroke-width="2"/><polygon points="960.1,814.0 1053.4,831.3 1025.6,955.1 1035.7,993.0 1102.6,1075.3 973.7,1016.6 960.1,1067.0 918.6,1064.7 847.8,1057.7 913.9,993.0 915.1,967.0 913.8,912.8" fill="rgba(0,245,225,0.46)" stroke="#00f5dc" stroke-width="2" stroke-linejoin="round"/><circle cx="960.1" cy="814.0" r="2.3" fill="#00f5dc"/><circle cx="1053.4" cy="831.3" r="2.3" fill="#00f5dc"/><circle cx="1025.6" cy="955.1" r="2.3" fill="#00f5dc"/><circle cx="1035.7" cy="993.0" r="2.3" fill="#00f5dc"/><circle cx="1102.6" cy="1075.3" r="2.3" fill="#00f5dc"/><circle cx="973.7" cy="1016.6" r="2.3" fill="#00f5dc"/><circle cx="960.1" cy="1067.0" r="2.3" fill="#00f5dc"/><circle cx="918.6" cy="1064.7" r="2.3" fill="#00f5dc"/><circle cx="847.8" cy="1057.7" r="2.3" fill="#00f5dc"/><circle cx="913.9" cy="993.0" r="2.3" fill="#00f5dc"/><circle cx="915.1" cy="967.0" r="2.3" fill="#00f5dc"/><circle cx="913.8" cy="912.8" r="2.3" fill="#00f5dc"/><polygon points="960.1,818.8 1057.3,824.6 1028.7,953.3 1036.9,993.0 1101.3,1074.5 970.6,1011.2 960.1,1070.8 907.5,1084.0 830.3,1067.9 923.3,993.0 910.7,964.4 902.7,893.6" fill="none" stroke="#3030f0" stroke-width="2" stroke-linejoin="round"/><polygon points="960.1,823.5 1061.2,817.9 1031.8,951.5 1038.0,993.0 1100.0,1073.7 967.4,1005.7 960.1,1074.7 896.4,1103.3 812.8,1078.0 932.7,993.0 906.3,961.9 891.6,874.3" fill="rgba(255,150,204,0.45)" stroke="#ff96cd" stroke-width="2.4" stroke-linejoin="round"/><circle cx="960.1" cy="823.5" r="2" fill="#ff96cd"/><circle cx="1061.2" cy="817.9" r="2" fill="#ff96cd"/><circle cx="1031.8" cy="951.5" r="2" fill="#ff96cd"/><circle cx="1038.0" cy="993.0" r="2" fill="#ff96cd"/><circle cx="1100.0" cy="1073.7" r="2" fill="#ff96cd"/><circle cx="967.4" cy="1005.7" r="2" fill="#ff96cd"/><circle cx="960.1" cy="1074.7" r="2" fill="#ff96cd"/><circle cx="896.4" cy="1103.3" r="2" fill="#ff96cd"/><circle cx="812.8" cy="1078.0" r="2" fill="#ff96cd"/><circle cx="932.7" cy="993.0" r="2" fill="#ff96cd"/><circle cx="906.3" cy="961.9" r="2" fill="#ff96cd"/><circle cx="891.6" cy="874.3" r="2" fill="#ff96cd"/><g transform="translate(946.8 734.4) scale(1.1083)" fill="none" stroke-linecap="round" stroke-linejoin="round"><path d="M9.2 6.2 C6.6 8.2 4.8 11.2 5.2 15 C5.8 19.2 9.6 22.1 13.4 21.9 C17.2 21.7 19.3 18.2 18.9 14.2 C18.5 10.6 16.2 8 13.8 6.4" stroke="#111" stroke-width="1.17"/><path d="M9.2 6.2 L8 3.2 L9.8 2.2 L11 5 L12.2 4.6 L11.6 2.4 L13.6 2 L14.4 4.6 L15.8 4.4 L16.6 6.6 L13.8 6.4" stroke="#111" stroke-width="1.17"/><path d="M10.5 8 C12 11 13.5 14 14 19.4 M12.6 12.4 L15.6 10.4 M13.4 15.4 L10.6 13.6 M13.8 17.4 L16.2 15.8 M7.4 9 C8.4 10.4 9 11.4 9.2 12.8" stroke="#111" stroke-width="1.17"/></g><g transform="translate(1069.4 767.2) scale(1.1083)" fill="none" stroke-linecap="round" stroke-linejoin="round"><g transform="translate(2.1 2.0) scale(0.495 0.5)"><path d="M15.8 0.8 V8.2 C15.8 10 14.8 10.9 13 10.9 H7.2 C3.4 10.9 0.9 13.8 0.9 17.6 C0.9 20.8 2.6 23.4 5.4 24.4 C6 24.7 6.6 24.8 7.2 24.8 H32.2" stroke="#111" stroke-width="2.36"/><path d="M22.9 0.8 V10.6 C22.9 14.6 20.6 17.85 17 17.85 M7 17.85 H31.8 C35.8 17.85 38.7 20.8 38.7 24.8 C38.7 28.8 35.8 31.8 31.8 31.8 H7" stroke="#111" stroke-width="2.36"/><path d="M5.4 24.4 C2.6 25.6 0.9 28.4 0.9 31.8 C0.9 35.8 3.6 39.2 7.4 39.2 H32 C34.2 39.2 35.8 37.6 35.8 35.5 C35.8 33.4 34.2 31.8 32 31.8" stroke="#111" stroke-width="2.36"/></g></g><g transform="translate(1159.2 857.0) scale(1.1083)" fill="none" stroke-linecap="round" stroke-linejoin="round"><path d="M5.4 2 V9.6 C4.6 12 4.8 15 6.6 17.2 C8 18.8 10 19.6 11 19.8 L12 22 L13 19.8 C14 19.6 16 18.8 17.4 17.2 C19.2 15 19.4 12 18.6 9.6 V2" stroke="#111" stroke-width="1.17"/><path d="M5.4 9.6 C8 8 16 8 18.6 9.6" stroke="#111" stroke-width="1.17"/></g><g transform="translate(1192.1 979.7) scale(1.1083)" fill="none" stroke-linecap="round" stroke-linejoin="round"><path d="M6.6 2.2 C3.8 2.2 1.8 5.2 1.8 9.2 C1.8 13.2 3.8 16.4 6.6 16.4 C8.6 16.4 9.8 15 9.6 13.4 C9.4 12 8 11.4 8 9.4 C8 7.4 9.4 6.8 9.6 5.2 C9.8 3.4 8.6 2.2 6.6 2.2 Z" stroke="#111" stroke-width="1.17"/><path d="M17.4 2.2 C20.2 2.2 22.2 5.2 22.2 9.2 C22.2 13.2 20.2 16.4 17.4 16.4 C15.4 16.4 14.2 15 14.4 13.4 C14.6 12 16 11.4 16 9.4 C16 7.4 14.6 6.8 14.4 5.2 C14.2 3.4 15.4 2.2 17.4 2.2 Z" stroke="#111" stroke-width="1.17"/><path d="M8 9.4 C9.8 9.6 10.8 10.8 10.8 12.6 V22 M16 9.4 C14.2 9.6 13.2 10.8 13.2 12.6 V22 M12 12.6 V22" stroke="#111" stroke-width="1.17"/></g><g transform="translate(1159.2 1102.3) scale(1.1083)" fill="none" stroke-linecap="round" stroke-linejoin="round"><path d="M12 21.3 C5 15.5 2.1 12.3 2.1 8.4 C2.1 5.2 4.4 2.9 7.1 2.9 C9.2 2.9 10.9 4 12 5.9 C13.1 4 14.8 2.9 16.9 2.9 C19.6 2.9 21.9 5.2 21.9 8.4 C21.9 12.3 19 15.5 12 21.3 Z" stroke="#111" stroke-width="1.17"/><path d="M2.3 12 H8 L9.4 8.8 L11.6 15.6 L13.6 10.2 L14.6 12 H18.6" stroke="#111" stroke-width="1.17"/></g><g transform="translate(1069.4 1192.1) scale(1.1083)" fill="none" stroke-linecap="round" stroke-linejoin="round"><path d="M12 2.06 C9.9 3.9 6.8 5.3 4.5 5.44 Q3.94 5.5 3.94 6.06 C4.1 12.2 6.3 17.9 12 22.4 C17.7 17.9 19.9 12.2 20.06 6.06 Q20.06 5.5 19.5 5.44 C17.2 5.3 14.1 3.9 12 2.06 Z" stroke="#111" stroke-width="1.17"/><path d="M12 5.28 C10.4 6.5 8.6 7.3 7.1 7.5 Q6.6 7.57 6.6 8.14 C7 12.2 8.6 16.1 12 19.1 C15.4 16.1 17 12.2 17.4 8.14 Q17.4 7.57 16.9 7.5 C15.4 7.3 13.6 6.5 12 5.28 Z" stroke="#111" stroke-width="1.17"/></g><g transform="translate(946.8 1225.0) scale(1.1083)" fill="none" stroke-linecap="round" stroke-linejoin="round"><path d="M8.2 2.4 C9.4 3.6 10.4 4.8 10.8 6.4 C13.6 7.6 16.8 10.4 17.2 13.6 C17.6 16.8 15.8 19.4 13.4 19.4 C11.4 19.4 10.4 17.6 10.6 15.6 C10.8 12.8 12.4 10.6 10.8 6.4" stroke="#111" stroke-width="1.17"/><path d="M10.2 6.4 C9.4 10.4 7.2 15 7.6 21.6 M12.2 16.8 C13.6 16.2 14.8 14.6 14.8 12.6" stroke="#111" stroke-width="1.17"/></g><g transform="translate(824.1 1192.1) scale(1.1083)" fill="none" stroke-linecap="round" stroke-linejoin="round"><path d="M2.4 6.8 C8 4.2 16 4 20 4.8 C21.6 5.2 22 6.6 22 8.4 C22 12 22 15.6 21.4 18.6 C21.2 19.4 20.6 19.6 19.8 19.6 H16.6 C15.4 19.4 14.8 18.4 13.8 17.4 C10.8 14.4 5.4 10.8 2.4 6.8 Z" stroke="#111" stroke-width="1.17"/><path d="M11.8 4.6 C12 7.4 11.6 10.6 10.4 13.8 M15.4 18.8 C15 17.8 15.8 17 16.8 17.4 C17.8 17.8 17.6 19 17 19.6" stroke="#111" stroke-width="1.17"/></g><g transform="translate(734.3 1102.3) scale(1.1083)" fill="none" stroke-linecap="round" stroke-linejoin="round"><path d="M11.6 3 V11 M11.6 9 L13.2 10.4" stroke="#111" stroke-width="1.17"/><path d="M9.8 6.4 C8.6 5.6 7.4 6.6 6 8.4 C3.6 11.6 1.9 15.6 1.9 18.6 C1.9 20.4 2.8 21 4.4 20.8 C6.4 20.6 8.6 19.8 9.8 18.6 C10.2 18.2 10.2 17.6 10.2 17 V7.4 C10.2 7 10.1 6.6 9.8 6.4 Z" stroke="#111" stroke-width="1.17"/><path d="M13.8 6.4 C15 5.6 16.4 6.6 17.8 8.4 C20.4 11.6 22.1 15.6 22.1 18.6 C22.1 20.4 21.2 21 19.6 20.8 C17.6 20.6 15.4 19.8 14.2 18.6 C13.8 18.2 13.6 17.6 13.6 17 V13.4 C14.6 13 14.8 11.4 13.6 10.8 V7.4 C13.6 7 13.6 6.6 13.8 6.4 Z" stroke="#111" stroke-width="1.17"/></g><g transform="translate(701.5 979.7) scale(1.1083)" fill="none" stroke-linecap="round" stroke-linejoin="round"><path d="M5.5 2.5 C9 1.8 15 1.8 18.5 2.5 C20 2.9 20.2 4.5 20.2 6 V9.6 C20.2 10.8 19.4 11.2 18.4 11.2 C17.2 11.2 16.6 10.6 16.6 9.4 V7.2 C16.6 6.4 16.2 6 15.4 6 H10.4 C9.6 6 9.4 6.4 9.4 7.2 V12 C9.4 13 9.8 13.6 10.6 14 C11.4 14.4 11.2 15.6 10.4 15.8 L9.8 16 C10.2 18 10 20.4 9.6 22 C8.8 20.6 8.6 18 8.4 16.4 C6.4 16 4.6 14.6 4.4 12 V5 C4.2 3.6 4.6 2.8 5.5 2.5 Z" stroke="#111" stroke-width="1.17"/></g><g transform="translate(734.3 857.0) scale(1.1083)" fill="none" stroke-linecap="round" stroke-linejoin="round"><path d="M12.8 3.4 C9 1.8 3.4 4.6 2.4 10 C1.4 15.6 5.4 20.6 10.6 20.8 C14 20.8 16 19.6 17.2 18 C18 17 19 16.8 19.8 17.4 L20 20.6 H21.8 C22.4 18 22.4 15.6 21 14 C19.6 12.6 17.4 12.6 16 14 C15.2 11.6 14.2 9.6 13.6 7.6 C13.4 6.6 13.8 5.6 14.8 5.2 L14.4 3.4 C13.8 3.2 13.2 3.2 12.8 3.4 Z" stroke="#111" stroke-width="1.17"/><path d="M20 17.4 C20.6 16.6 20.6 15.6 20 15" stroke="#111" stroke-width="1.17"/></g><g transform="translate(824.1 767.2) scale(1.1083)" fill="none" stroke-linecap="round" stroke-linejoin="round"><path d="M2.2 2.6 C4 1.6 7 3.4 10.4 5.4 C13.6 7.2 17.6 8 20.2 10.6 C22.6 13 22.8 17 20.6 19.6 C18.4 22.2 14.4 22.6 12.4 20.4 C10.8 18.6 11.6 16.4 13.2 15.4 C11.2 13.4 7.6 11.6 5.4 9.4 C3.4 7.4 1.8 5 2.2 2.6 Z" stroke="#111" stroke-width="1.17"/><path d="M4.4 5 C8 7.6 13 10 17.6 14 M7.6 6.2 L7.8 8 M9 9.4 L10.8 9 M11.4 8.4 L11.6 10.4 M13 12 L15 11.4 M15.2 10.8 L15.4 13 M17.6 14 L17.4 17 M17.6 14 L19.8 15.4 M17.6 14 L15.4 15.6" stroke="#111" stroke-width="1.17"/></g></svg>
<div style="position:absolute;left:500px;top:1278px;width:18px;height:18px;background:#0ff5d6;border-radius:50%;"></div>
<div style="position:absolute;left:499.9px;top:1305.7px;width:16.2px;height:16.2px;border:1.2px solid #4a4af0;border-radius:50%;"></div>
<div style="position:absolute;left:500px;top:1333.8px;width:18px;height:18px;background:#ff99cc;border-radius:50%;"></div>
<div class="t" style="left:523.4px;top:1279px;font-size:13px;line-height:17px;color:#222;letter-spacing:0.10px;">Left side</div>
<div class="t" style="left:523.4px;top:1307px;font-size:13px;line-height:17px;color:#222;letter-spacing:0.01px;">Average value</div>
<div class="t" style="left:523.4px;top:1335px;font-size:13px;line-height:17px;color:#222;letter-spacing:0.02px;">Right side</div>
<div style="position:absolute;left:1401.9px;top:1277.9px;width:16.2px;height:16.2px;border:1.2px solid #ff3b3b;border-radius:50%;"></div>
<div class="t" style="left:1313.6px;top:1279px;font-size:13px;line-height:17px;color:#222;letter-spacing:0.26px;">Above normal</div>
<div style="position:absolute;left:583.6999999999999px;top:1851.8000000000002px;width:16.2px;height:16.2px;border:1.2px solid #ff3b3b;border-radius:50%;"></div>
<div class="t" style="left:495.7px;top:1853px;font-size:13px;line-height:17px;color:#222;letter-spacing:0.26px;">Above normal</div>
<div style="position:absolute;left:1401.9px;top:1305.8000000000002px;width:16.2px;height:16.2px;border:1.2px solid #4fd66a;border-radius:50%;"></div>
<div class="t" style="left:1352.6px;top:1307px;font-size:13px;line-height:17px;color:#222;letter-spacing:0.42px;">Normal</div>
<div style="position:absolute;left:583.6999999999999px;top:1879.7000000000003px;width:16.2px;height:16.2px;border:1.2px solid #4fd66a;border-radius:50%;"></div>
<div class="t" style="left:534.7px;top:1881px;font-size:13px;line-height:17px;color:#222;letter-spacing:0.42px;">Normal</div>
<div style="position:absolute;left:1401.9px;top:1333.7px;width:16.2px;height:16.2px;border:1.2px solid #4a6cf0;border-radius:50%;"></div>
<div class="t" style="left:1315.5px;top:1335px;font-size:13px;line-height:17px;color:#222;letter-spacing:0.21px;">Below normal</div>
<div style="position:absolute;left:583.6999999999999px;top:1907.6000000000001px;width:16.2px;height:16.2px;border:1.2px solid #4a6cf0;border-radius:50%;"></div>
<div class="t" style="left:497.6px;top:1909px;font-size:13px;line-height:17px;color:#222;letter-spacing:0.21px;">Below normal</div>
<div class="card" style="left:470px;top:1956.5px;width:980px;height:804px"></div>
<div class="t" style="left:500.0px;top:1971px;font-size:18px;line-height:22px;color:#1a1a1a;letter-spacing:0.44px;font-weight:700;">Indicators</div>
<div style="position:absolute;left:470px;top:2008px;width:980px;height:458px;background:#ececec"></div>
<div style="position:absolute;left:470px;top:2007px;width:980px;height:91.4px;background:#7070d9"></div>
<div class="t" style="left:500.0px;top:2033px;font-size:16px;line-height:19px;color:#fff;letter-spacing:0.20px;font-weight:700;">Energy level</div>
<div class="t" style="left:500.0px;top:2055px;font-size:16px;line-height:19px;color:rgba(255,255,255,.92);letter-spacing:0.51px;">Below normal</div>
<div class="t" style="left:1295.6px;top:2045px;font-size:36px;line-height:43px;color:#fff;letter-spacing:1.28px;font-weight:700;">18.89</div>
<svg style="position:absolute;left:1413px;top:2044.9px" width="16" height="16" viewBox="-8 -8 16 16"><path d="M-3.6 -1.7 L0 1.7 L3.6 -1.7" fill="none" stroke="#fff" stroke-width="1.3" stroke-linecap="round" stroke-linejoin="round"/></svg>
<div style="position:absolute;left:470px;top:2099px;width:980px;height:91.4px;background:#7070d9"></div>
<div class="t" style="left:500.0px;top:2125px;font-size:16px;line-height:19px;color:#fff;letter-spacing:1.05px;font-weight:700;">Immunity</div>
<div class="t" style="left:500.0px;top:2147px;font-size:16px;line-height:19px;color:rgba(255,255,255,.92);letter-spacing:0.51px;">Below normal</div>
<div class="t" style="left:1317.0px;top:2137px;font-size:36px;line-height:43px;color:#fff;letter-spacing:1.24px;font-weight:700;">3.81</div>
<svg style="position:absolute;left:1413px;top:2136.9px" width="16" height="16" viewBox="-8 -8 16 16"><path d="M-3.6 -1.7 L0 1.7 L3.6 -1.7" fill="none" stroke="#fff" stroke-width="1.3" stroke-linecap="round" stroke-linejoin="round"/></svg>
<div style="position:absolute;left:470px;top:2191px;width:980px;height:91.4px;background:#ff552b"></div>
<div class="t" style="left:500.0px;top:2217px;font-size:16px;line-height:19px;color:#fff;letter-spacing:0.95px;font-weight:700;">Metabolism</div>
<div class="t" style="left:500.0px;top:2239px;font-size:16px;line-height:19px;color:rgba(255,255,255,.92);letter-spacing:0.54px;">Above normal</div>
<div class="t" style="left:1317.0px;top:2229px;font-size:36px;line-height:43px;color:#fff;letter-spacing:1.24px;font-weight:700;">1.68</div>
<svg style="position:absolute;left:1413px;top:2228.9px" width="16" height="16" viewBox="-8 -8 16 16"><path d="M-3.6 -1.7 L0 1.7 L3.6 -1.7" fill="none" stroke="#fff" stroke-width="1.3" stroke-linecap="round" stroke-linejoin="round"/></svg>
<div style="position:absolute;left:470px;top:2283px;width:980px;height:91.4px;background:#ff552b"></div>
<div class="t" style="left:500.0px;top:2309px;font-size:16px;line-height:19px;color:#fff;letter-spacing:0.47px;font-weight:700;">Psycho-emotional state</div>
<div class="t" style="left:500.0px;top:2331px;font-size:16px;line-height:19px;color:rgba(255,255,255,.92);letter-spacing:0.54px;">Above normal</div>
<div class="t" style="left:1317.0px;top:2321px;font-size:36px;line-height:43px;color:#fff;letter-spacing:1.24px;font-weight:700;">1.45</div>
<svg style="position:absolute;left:1413px;top:2320.9px" width="16" height="16" viewBox="-8 -8 16 16"><path d="M-3.6 -1.7 L0 1.7 L3.6 -1.7" fill="none" stroke="#fff" stroke-width="1.3" stroke-linecap="round" stroke-linejoin="round"/></svg>
<div style="position:absolute;left:470px;top:2375px;width:980px;height:91px;background:#00be5f"></div>
<div class="t" style="left:500.0px;top:2401px;font-size:16px;line-height:19px;color:#fff;letter-spacing:0.58px;font-weight:700;">Musculoskeletal system</div>
<div class="t" style="left:500.0px;top:2423px;font-size:16px;line-height:19px;color:rgba(255,255,255,.92);letter-spacing:-0.21px;">Fine</div>
<div class="t" style="left:1316.7px;top:2413px;font-size:36px;line-height:43px;color:#fff;letter-spacing:1.36px;font-weight:700;">0.90</div>
<svg style="position:absolute;left:1413px;top:2412.9px" width="16" height="16" viewBox="-8 -8 16 16"><path d="M-3.6 -1.7 L0 1.7 L3.6 -1.7" fill="none" stroke="#fff" stroke-width="1.3" stroke-linecap="round" stroke-linejoin="round"/></svg>
<div class="t" style="left:500.0px;top:2487px;font-size:20px;line-height:24px;color:#333;letter-spacing:0.16px;font-weight:700;">Average value</div>
<div class="t" style="left:1336.2px;top:2481px;font-size:32px;line-height:38px;color:#333;letter-spacing:0.83px;font-weight:700;">18.89</div>
<div style="position:absolute;left:470px;top:2528.8px;width:980px;height:58px;background:#f0efee"></div>
<div class="t" style="left:500.0px;top:2538px;font-size:14px;line-height:18px;color:#555;letter-spacing:0.25px;">φ L</div>
<div class="t" style="left:500.0px;top:2559px;font-size:16px;line-height:19px;color:#333;letter-spacing:0.80px;font-weight:700;">284.50</div>
<div class="t" style="left:730.3px;top:2538px;font-size:14px;line-height:18px;color:#555;letter-spacing:0.25px;">φ R</div>
<div class="t" style="left:730.3px;top:2559px;font-size:16px;line-height:19px;color:#333;letter-spacing:0.80px;font-weight:700;">168.97</div>
<div class="t" style="left:1127.2px;top:2538px;font-size:14px;line-height:18px;color:#555;letter-spacing:0.25px;">(+)453.47</div>
<div class="t" style="left:1138.5px;top:2559px;font-size:16px;line-height:19px;color:#333;letter-spacing:0.80px;font-weight:700;">(/)1.68</div>
<div class="t" style="left:1384.6px;top:2538px;font-size:14px;line-height:18px;color:#555;letter-spacing:0.25px;">Norm</div>
<div class="t" style="left:1365.0px;top:2559px;font-size:16px;line-height:19px;color:#333;letter-spacing:0.80px;font-weight:700;">0.9-1.1</div>
<div class="t" style="left:500.0px;top:2596px;font-size:14px;line-height:18px;color:#555;letter-spacing:0.25px;">Left</div>
<div class="t" style="left:500.0px;top:2617px;font-size:16px;line-height:19px;color:#333;letter-spacing:0.80px;font-weight:700;">214.98</div>
<div class="t" style="left:730.3px;top:2596px;font-size:14px;line-height:18px;color:#555;letter-spacing:0.25px;">Right</div>
<div class="t" style="left:730.3px;top:2617px;font-size:16px;line-height:19px;color:#333;letter-spacing:0.80px;font-weight:700;">238.48</div>
<div class="t" style="left:1167.2px;top:2596px;font-size:14px;line-height:18px;color:#555;letter-spacing:0.25px;">L/R</div>
<div class="t" style="left:1156.0px;top:2617px;font-size:16px;line-height:19px;color:#333;letter-spacing:0.80px;font-weight:700;">0.90</div>
<div class="t" style="left:1384.6px;top:2596px;font-size:14px;line-height:18px;color:#555;letter-spacing:0.25px;">Norm</div>
<div class="t" style="left:1365.0px;top:2617px;font-size:16px;line-height:19px;color:#333;letter-spacing:0.80px;font-weight:700;">0.9-1.2</div>
<div style="position:absolute;left:470px;top:2644.8px;width:980px;height:58px;background:#f0efee"></div>
<div class="t" style="left:500.0px;top:2654px;font-size:14px;line-height:18px;color:#555;letter-spacing:0.25px;">Up</div>
<div class="t" style="left:500.0px;top:2675px;font-size:16px;line-height:19px;color:#333;letter-spacing:0.80px;font-weight:700;">268.20</div>
<div class="t" style="left:730.3px;top:2654px;font-size:14px;line-height:18px;color:#555;letter-spacing:0.25px;">Down</div>
<div class="t" style="left:730.3px;top:2675px;font-size:16px;line-height:19px;color:#333;letter-spacing:0.80px;font-weight:700;">185.26</div>
<div class="t" style="left:1130.4px;top:2654px;font-size:14px;line-height:18px;color:#555;letter-spacing:0.25px;">Up/Down</div>
<div class="t" style="left:1156.0px;top:2675px;font-size:16px;line-height:19px;color:#333;letter-spacing:0.80px;font-weight:700;">1.45</div>
<div class="t" style="left:1384.6px;top:2654px;font-size:14px;line-height:18px;color:#555;letter-spacing:0.25px;">Norm</div>
<div class="t" style="left:1365.0px;top:2675px;font-size:16px;line-height:19px;color:#333;letter-spacing:0.80px;font-weight:700;">0.9-1.2</div>
<div class="t" style="left:500.0px;top:2712px;font-size:14px;line-height:18px;color:#555;letter-spacing:0.25px;">L2</div>
<div class="t" style="left:500.0px;top:2733px;font-size:16px;line-height:19px;color:#333;letter-spacing:0.80px;font-weight:700;">15.09</div>
<div class="t" style="left:730.3px;top:2712px;font-size:14px;line-height:18px;color:#555;letter-spacing:0.25px;">L1</div>
<div class="t" style="left:730.3px;top:2733px;font-size:16px;line-height:19px;color:#333;letter-spacing:0.80px;font-weight:700;">11.33</div>
<div class="t" style="left:1171.4px;top:2712px;font-size:14px;line-height:18px;color:#555;letter-spacing:0.25px;">H1</div>
<div class="t" style="left:1146.3px;top:2733px;font-size:16px;line-height:19px;color:#333;letter-spacing:0.80px;font-weight:700;">27.38</div>
<div class="t" style="left:1401.5px;top:2712px;font-size:14px;line-height:18px;color:#555;letter-spacing:0.25px;">H2</div>
<div class="t" style="left:1376.4px;top:2733px;font-size:16px;line-height:19px;color:#333;letter-spacing:0.80px;font-weight:700;">23.14</div>
<div class="card" style="left:470px;top:2780.5px;width:980px;height:1348.5px"></div>
<div class="t" style="left:500.0px;top:2796px;font-size:18px;line-height:22px;color:#1a1a1a;letter-spacing:0.50px;font-weight:700;">Recommendations</div>
<div style="position:absolute;left:470px;top:2831px;width:980px;height:1px;background:#e8e8e8"></div>
<div class="t" style="left:662.9px;top:2877px;font-size:17px;line-height:21px;color:#3a36e6;letter-spacing:0.47px;font-weight:700;">Immune system</div>
<svg style="position:absolute;left:706px;top:2908px" width="48" height="48" viewBox="0 0 48 48"><g transform="translate(0.9 1.6) scale(1.9250)" fill="none" stroke-linecap="round" stroke-linejoin="round"><path d="M12 2.06 C9.9 3.9 6.8 5.3 4.5 5.44 Q3.94 5.5 3.94 6.06 C4.1 12.2 6.3 17.9 12 22.4 C17.7 17.9 19.9 12.2 20.06 6.06 Q20.06 5.5 19.5 5.44 C17.2 5.3 14.1 3.9 12 2.06 Z" stroke="#3a36e6" stroke-width="0.99"/><path d="M12 5.28 C10.4 6.5 8.6 7.3 7.1 7.5 Q6.6 7.57 6.6 8.14 C7 12.2 8.6 16.1 12 19.1 C15.4 16.1 17 12.2 17.4 8.14 Q17.4 7.57 16.9 7.5 C15.4 7.3 13.6 6.5 12 5.28 Z" stroke="#3a36e6" stroke-width="0.99"/></g></svg>
<div style="position:absolute;left:692px;top:3048px;width:12px;height:48px;background:#3a36e6;border-radius:6px"></div>
<div style="position:absolute;left:724px;top:3006px;width:12px;height:90px;background:#00be5f;border-radius:6px"></div>
<div style="position:absolute;left:756px;top:3023px;width:12px;height:73px;background:#3a36e6;border-radius:6px"></div>
<div class="t" style="left:725.3px;top:2989px;font-size:13px;line-height:17px;color:#00be5f;letter-spacing:0.26px;">N</div>
<div class="t" style="left:679.4px;top:3050px;font-size:13px;line-height:17px;color:#3a36e6;letter-spacing:0.30px;">4</div>
<div class="t" style="left:773.2px;top:3025px;font-size:13px;line-height:17px;color:#3a36e6;letter-spacing:0.30px;">2</div>
<div class="t" style="left:665.9px;top:3078px;font-size:14px;line-height:18px;color:#3a36e6;letter-spacing:0.68px;">left</div>
<div class="t" style="left:773.2px;top:3078px;font-size:14px;line-height:18px;color:#3a36e6;letter-spacing:0.87px;">right</div>
<div class="t" style="left:686.4px;top:3117px;font-size:14px;line-height:18px;color:#3a36e6;letter-spacing:0.14px;font-weight:700;">Insufficiency</div>
<div class="t" style="left:1128.3px;top:2877px;font-size:17px;line-height:21px;color:#ff552b;letter-spacing:0.25px;font-weight:700;">Small Intestine</div>
<svg style="position:absolute;left:1166px;top:2908px" width="48" height="48" viewBox="0 0 48 48"><g transform="translate(0.4 1.1) scale(1.9708)" fill="none" stroke-linecap="round" stroke-linejoin="round"><g transform="translate(2.1 2.0) scale(0.495 0.5)"><path d="M15.8 0.8 V8.2 C15.8 10 14.8 10.9 13 10.9 H7.2 C3.4 10.9 0.9 13.8 0.9 17.6 C0.9 20.8 2.6 23.4 5.4 24.4 C6 24.7 6.6 24.8 7.2 24.8 H32.2" stroke="#ff552b" stroke-width="1.94"/><path d="M22.9 0.8 V10.6 C22.9 14.6 20.6 17.85 17 17.85 M7 17.85 H31.8 C35.8 17.85 38.7 20.8 38.7 24.8 C38.7 28.8 35.8 31.8 31.8 31.8 H7" stroke="#ff552b" stroke-width="1.94"/><path d="M5.4 24.4 C2.6 25.6 0.9 28.4 0.9 31.8 C0.9 35.8 3.6 39.2 7.4 39.2 H32 C34.2 39.2 35.8 37.6 35.8 35.5 C35.8 33.4 34.2 31.8 32 31.8" stroke="#ff552b" stroke-width="1.94"/></g></g></svg>
<div style="position:absolute;left:1152px;top:2997px;width:12px;height:99px;background:#ff552b;border-radius:6px"></div>
<div style="position:absolute;left:1184px;top:3006px;width:12px;height:90px;background:#00be5f;border-radius:6px"></div>
<div style="position:absolute;left:1216px;top:2978px;width:12px;height:118px;background:#ff552b;border-radius:6px"></div>
<div class="t" style="left:1185.3px;top:2989px;font-size:13px;line-height:17px;color:#00be5f;letter-spacing:0.26px;">N</div>
<div class="t" style="left:1131.8px;top:2999px;font-size:13px;line-height:17px;color:#ff552b;letter-spacing:0.30px;">33</div>
<div class="t" style="left:1233.2px;top:2980px;font-size:13px;line-height:17px;color:#ff552b;letter-spacing:0.30px;">36</div>
<div class="t" style="left:1125.9px;top:3078px;font-size:14px;line-height:18px;color:#ff552b;letter-spacing:0.68px;">left</div>
<div class="t" style="left:1233.2px;top:3078px;font-size:14px;line-height:18px;color:#ff552b;letter-spacing:0.87px;">right</div>
<div class="t" style="left:1144.2px;top:3117px;font-size:14px;line-height:18px;color:#ff552b;letter-spacing:0.31px;font-weight:700;">Hyperactivity</div>
<div class="t" style="left:663.0px;top:3187px;font-size:14px;line-height:18px;color:#222;letter-spacing:0.59px;">The organ that is most often in the greatest insufficiency requires the greatest attention.</div>
<div class="t" style="left:557.8px;top:3206px;font-size:14px;line-height:18px;color:#222;letter-spacing:0.55px;">An organ in a state of hyperactivity is compensatory; your observation is recommended. As a rule, no action is required.</div>
<div class="t" style="left:666.0px;top:3244px;font-size:14px;line-height:18px;color:#222;letter-spacing:0.49px;">If you observe an organ metric below 15% for several days, you should consult a doctor.</div>
<div style="position:absolute;left:470px;top:3297.5px;width:980px;height:1px;background:#ececec"></div>
<div style="position:absolute;left:470px;top:3387.2px;width:980px;height:1px;background:#ececec"></div>
<div style="position:absolute;left:470px;top:3477.4px;width:980px;height:1px;background:#ececec"></div>
<div style="position:absolute;left:470px;top:3558.3px;width:980px;height:1px;background:#ececec"></div>
<div style="position:absolute;left:470px;top:3639.1px;width:980px;height:1px;background:#ececec"></div>
<div style="position:absolute;left:470px;top:3720.4px;width:980px;height:1px;background:#ececec"></div>
<div style="position:absolute;left:470px;top:3801.3px;width:980px;height:1px;background:#ececec"></div>
<div style="position:absolute;left:470px;top:3882.3px;width:980px;height:1px;background:#ececec"></div>
<div style="position:absolute;left:470px;top:3963.4px;width:980px;height:1px;background:#ececec"></div>
<div class="t" style="left:559.5px;top:3333px;font-size:17px;line-height:21px;color:#1a1a1a;letter-spacing:-0.12px;font-weight:700;">Insufficiency</div>
<svg style="position:absolute;left:1413px;top:3335.2000000000003px" width="16" height="16" viewBox="-8 -8 16 16"><path d="M-3.8 -2.0 L0 2.0 L3.8 -2.0" fill="none" stroke="#1a1a1a" stroke-width="1.6" stroke-linecap="round" stroke-linejoin="round"/></svg>
<div class="t" style="left:559.5px;top:3423px;font-size:17px;line-height:21px;color:#1a1a1a;letter-spacing:0.19px;font-weight:700;">Hyperactivity</div>
<svg style="position:absolute;left:1413px;top:3425.4px" width="16" height="16" viewBox="-8 -8 16 16"><path d="M-3.8 -2.0 L0 2.0 L3.8 -2.0" fill="none" stroke="#1a1a1a" stroke-width="1.6" stroke-linecap="round" stroke-linejoin="round"/></svg>
<div class="t" style="left:559.5px;top:3509px;font-size:17px;line-height:21px;color:#1a1a1a;letter-spacing:0.17px;font-weight:700;">Diet</div>
<svg style="position:absolute;left:1413px;top:3511.2000000000003px" width="16" height="16" viewBox="-8 -8 16 16"><path d="M-3.8 -2.0 L0 2.0 L3.8 -2.0" fill="none" stroke="#1a1a1a" stroke-width="1.6" stroke-linecap="round" stroke-linejoin="round"/></svg>
<div class="t" style="left:559.5px;top:3590px;font-size:17px;line-height:21px;color:#1a1a1a;letter-spacing:0.21px;font-weight:700;">Dietary recommendations</div>
<svg style="position:absolute;left:1413px;top:3592.4px" width="16" height="16" viewBox="-8 -8 16 16"><path d="M-3.8 -2.0 L0 2.0 L3.8 -2.0" fill="none" stroke="#1a1a1a" stroke-width="1.6" stroke-linecap="round" stroke-linejoin="round"/></svg>
<div class="t" style="left:559.5px;top:3671px;font-size:17px;line-height:21px;color:#1a1a1a;letter-spacing:-0.76px;font-weight:700;">Food</div>
<svg style="position:absolute;left:1413px;top:3673.2000000000003px" width="16" height="16" viewBox="-8 -8 16 16"><path d="M-3.8 -2.0 L0 2.0 L3.8 -2.0" fill="none" stroke="#1a1a1a" stroke-width="1.6" stroke-linecap="round" stroke-linejoin="round"/></svg>
<div class="t" style="left:559.5px;top:3752px;font-size:17px;line-height:21px;color:#1a1a1a;letter-spacing:-0.46px;font-weight:700;">Exclude</div>
<svg style="position:absolute;left:1413px;top:3754.2000000000003px" width="16" height="16" viewBox="-8 -8 16 16"><path d="M-3.8 -2.0 L0 2.0 L3.8 -2.0" fill="none" stroke="#1a1a1a" stroke-width="1.6" stroke-linecap="round" stroke-linejoin="round"/></svg>
<div class="t" style="left:559.5px;top:3833px;font-size:17px;line-height:21px;color:#1a1a1a;letter-spacing:0.18px;font-weight:700;">General recommendations</div>
<svg style="position:absolute;left:1413px;top:3834.9px" width="16" height="16" viewBox="-8 -8 16 16"><path d="M-3.8 -2.0 L0 2.0 L3.8 -2.0" fill="none" stroke="#1a1a1a" stroke-width="1.6" stroke-linecap="round" stroke-linejoin="round"/></svg>
<div class="t" style="left:559.5px;top:3914px;font-size:17px;line-height:21px;color:#1a1a1a;letter-spacing:-0.34px;font-weight:700;">Physical exercise</div>
<svg style="position:absolute;left:1413px;top:3915.9px" width="16" height="16" viewBox="-8 -8 16 16"><path d="M-3.8 -2.0 L0 2.0 L3.8 -2.0" fill="none" stroke="#1a1a1a" stroke-width="1.6" stroke-linecap="round" stroke-linejoin="round"/></svg>
<div class="t" style="left:559.5px;top:3994px;font-size:17px;line-height:21px;color:#1a1a1a;letter-spacing:0.22px;font-weight:700;">Additional recommendations</div>
<svg style="position:absolute;left:1413px;top:3996.8px" width="16" height="16" viewBox="-8 -8 16 16"><path d="M-3.8 -2.0 L0 2.0 L3.8 -2.0" fill="none" stroke="#1a1a1a" stroke-width="1.6" stroke-linecap="round" stroke-linejoin="round"/></svg>
<svg style="position:absolute;left:503px;top:3321px;overflow:visible" width="26" height="43" viewBox="0 0 26 43" fill="none" stroke="#4a4af0" stroke-width="1.3" stroke-linecap="round" stroke-linejoin="round"><g transform="translate(-2.28 -2.3) scale(1.366 1.27)" stroke-width="1"><path d="M12 2.06 C9.9 3.9 6.8 5.3 4.5 5.44 Q3.94 5.5 3.94 6.06 C4.1 12.2 6.3 17.9 12 22.4 C17.7 17.9 19.9 12.2 20.06 6.06 Q20.06 5.5 19.5 5.44 C17.2 5.3 14.1 3.9 12 2.06 Z"/><path d="M12 5.28 C10.4 6.5 8.6 7.3 7.1 7.5 Q6.6 7.57 6.6 8.14 C7 12.2 8.6 16.1 12 19.1 C15.4 16.1 17 12.2 17.4 8.14 Q17.4 7.57 16.9 7.5 C15.4 7.3 13.6 6.5 12 5.28 Z"/></g><g stroke-width="1.1"><path d="M6 30 L0.6 34.6 M0.4 31.2 L0.6 34.6 L4 34.6 M13.5 30.4 L12 31.8 M10.2 33.6 L3 41.6 M2.8 37.8 L3 41.6 L6.8 41.6 M25 30 L21.4 33 M19.4 35 L12.6 41.6 M12.4 37.8 L12.6 41.6 L16.4 41.6"/></g></svg>
<svg style="position:absolute;left:503px;top:3411px;overflow:visible" width="28" height="43" viewBox="0 0 28 43" fill="none" stroke="#f0145a" stroke-width="1.4" stroke-linecap="round" stroke-linejoin="round"><g stroke-width="1.1"><path d="M2.4 11.6 L5 9.2 M7.2 7.2 L13.4 1.2 M9.6 1 L13.4 1.2 L13.6 5 M11.4 11.6 L14 9.2 M16.2 7.2 L23 1 M19.2 0.8 L23 1 L23.2 4.8 M20 11.6 L25.6 7.6 M22 7.2 L25.6 7.6 L25.8 11.2"/></g><g transform="translate(0.6 16.6) scale(0.68 0.65)" stroke-width="2.1"><path d="M15.8 0.8 V8.2 C15.8 10 14.8 10.9 13 10.9 H7.2 C3.4 10.9 0.9 13.8 0.9 17.6 C0.9 20.8 2.6 23.4 5.4 24.4 C6 24.7 6.6 24.8 7.2 24.8 H32.2"/><path d="M22.9 0.8 V10.6 C22.9 14.6 20.6 17.85 17 17.85 M7 17.85 H31.8 C35.8 17.85 38.7 20.8 38.7 24.8 C38.7 28.8 35.8 31.8 31.8 31.8 H7"/><path d="M5.4 24.4 C2.6 25.6 0.9 28.4 0.9 31.8 C0.9 35.8 3.6 39.2 7.4 39.2 H32 C34.2 39.2 35.8 37.6 35.8 35.5 C35.8 33.4 34.2 31.8 32 31.8"/></g></svg>
<svg style="position:absolute;left:500.6px;top:3501px;overflow:visible" width="33" height="34" viewBox="0 0 33 34" fill="none" stroke="#e8590c" stroke-width="1.9" stroke-linecap="round" stroke-linejoin="round"><ellipse cx="7.6" cy="10" rx="6.6" ry="9"/><path d="M7.6 19 V32.6"/><path d="M20.4 0.8 V9.6 C20.4 13.6 22.6 16 26.2 16 C29.8 16 32 13.6 32 9.6 V0.8 M26.2 0.8 V32.6"/></svg>
<svg style="position:absolute;left:503.4px;top:3581.6px;overflow:visible" width="28" height="35" viewBox="0 0 28 35" fill="none" stroke="#f0661a" stroke-width="1.3" stroke-linecap="round" stroke-linejoin="round"><path d="M3.5 1 H20 L27 8 V30.5 Q27 33.5 24 33.5 H3.5 Q0.7 33.5 0.7 30.5 V4 Q0.7 1 3.5 1 Z" /><path d="M6 24.5 H21.5 M6 28 H21.5" stroke-width="0.8"/><g stroke-width="1"><path d="M8.6 9 V13 Q8.6 14.8 10.4 14.8 Q12.2 14.8 12.2 13 V9 M10.4 9 V20.4"/><ellipse cx="17.4" cy="12.6" rx="2.2" ry="3"/><path d="M17.4 15.6 V20.4"/></g></svg>
<svg style="position:absolute;left:501.8px;top:3662.6px;overflow:visible" width="31" height="35" viewBox="0 0 31 35" fill="none" stroke="#f0661a" stroke-width="1.3" stroke-linecap="round" stroke-linejoin="round"><g stroke-width="1.15"><path d="M4.6 1.2 H10.2 V4.6 H4.6 Z M5.2 4.6 C5.2 7.4 1.8 8.4 1.8 12 V28.6 Q1.8 31.2 4.6 31.4 M9.8 4.6 C9.8 7 12.6 8.2 13 11 M0.6 4.4 L3.8 3 M0.4 7 L3.6 5"/><path d="M14.6 6.2 H29 Q30 6.2 30 7.2 Q30 8.4 29 8.4 H14.6 Q13.6 8.4 13.6 7.2 Q13.6 6.2 14.6 6.2 Z M14.8 8.6 L15.6 17 M28.8 8.6 L28 17"/><ellipse cx="19" cy="22.4" rx="11" ry="4.2"/><path d="M8 22.4 V29.4 C8 31.8 13 33.6 19 33.6 C25 33.6 30 31.8 30 29.4 V22.4"/><path d="M12 22.2 C14 19.4 17 18.6 19.4 20 C21.4 18.8 24 19.8 24.6 21.6 C26 20.8 27.6 21.2 28 22.4" /></g></svg>
<svg style="position:absolute;left:503.4px;top:3743.8px;overflow:visible" width="28" height="35" viewBox="0 0 28 35" fill="none" stroke="#f0661a" stroke-width="1.3" stroke-linecap="round" stroke-linejoin="round"><path d="M3.5 1 H20 L27 8 V30.5 Q27 33.5 24 33.5 H3.5 Q0.7 33.5 0.7 30.5 V4 Q0.7 1 3.5 1 Z" /><path d="M6 24.5 H21.5 M6 28 H21.5" stroke-width="0.8"/><path d="M9.4 9.6 L18.2 18.4 M18.2 9.6 L9.4 18.4" stroke-width="1.1"/></svg>
<svg style="position:absolute;left:500.8px;top:3825px;overflow:visible" width="32" height="35" viewBox="0 0 32 35" fill="none" stroke="#f0661a" stroke-width="1.4" stroke-linecap="round" stroke-linejoin="round"><path d="M8.2 6.4 H2.6 Q0.8 6.4 0.8 8.2 V31.4 H14.4 M17.2 6.4 H22.8 V18"/><path d="M8.2 4.6 H10 Q10.4 1 12.7 1 Q15 1 15.4 4.6 H17.2 V8.4 H8.2 Z"/><path d="M21.6 33.6 C16.4 29.4 13.4 26.8 13.4 23.4 C13.4 20.8 15.4 19 17.6 19 C19.2 19 20.6 19.8 21.6 21.4 C22.6 19.8 24 19 25.6 19 C27.8 19 29.8 20.8 29.8 23.4 C29.8 26.8 26.8 29.4 21.6 33.6 Z"/><path d="M13.8 26 H18.4 L19.6 23.6 L21.4 28.6 L23 24.8 L23.8 26 H26.6" stroke-width="1"/></svg>
<svg style="position:absolute;left:503.4px;top:3905.6px;overflow:visible" width="28" height="35" viewBox="0 0 28 35" fill="none" stroke="#f0661a" stroke-width="1.3" stroke-linecap="round" stroke-linejoin="round"><path d="M3.5 1 H20 L27 8 V30.5 Q27 33.5 24 33.5 H3.5 Q0.7 33.5 0.7 30.5 V4 Q0.7 1 3.5 1 Z" /><path d="M6 24.5 H21.5 M6 28 H21.5" stroke-width="0.8"/><g stroke-width="1.1"><circle cx="13.8" cy="8.6" r="1.2" fill="#f0661a"/><path d="M8.8 11.6 H18.8 M13.8 11.6 V15 M13.8 15 L10.4 20 M13.8 15 L17.2 20"/></g></svg>
<svg style="position:absolute;left:503.4px;top:3986.6px;overflow:visible" width="28" height="35" viewBox="0 0 28 35" fill="none" stroke="#f0661a" stroke-width="1.3" stroke-linecap="round" stroke-linejoin="round"><path d="M3.5 1 H20 L27 8 V30.5 Q27 33.5 24 33.5 H3.5 Q0.7 33.5 0.7 30.5 V4 Q0.7 1 3.5 1 Z" /><path d="M6 24.5 H21.5 M6 28 H21.5" stroke-width="0.8"/><circle cx="13.6" cy="13.4" r="5.2" fill="#f0661a" stroke="none"/><path d="M11.2 13.4 L13 15.2 L16.2 11.8" stroke="#fff" stroke-width="1.1"/></svg>
<div style="position:absolute;left:470px;top:4045px;width:980px;height:84px;background:#ff0509;border-radius:0 0 4px 4px"></div>
<div style="position:absolute;left:502.7px;top:4072.6px;width:28px;height:28px;background:#fff;border-radius:50%"></div>
<div class="t" style="left:513.0px;top:4073px;font-size:22px;line-height:27px;color:#ff0509;letter-spacing:0.00px;font-weight:700;">!</div>
<div class="t" style="left:559.2px;top:4061px;font-size:13px;line-height:17px;color:#fff;letter-spacing:0.20px;">Always seek the advice of your physician or other qualified health care provider with any questions you may have regarding a medical condition</div>
<div class="t" style="left:559.2px;top:4079px;font-size:13px;line-height:17px;color:#fff;letter-spacing:0.15px;">or treatment and before undertaking a new health care regimen, and never disregard professional medical advice or delay in seeking it because</div>
<div class="t" style="left:559.2px;top:4097px;font-size:13px;line-height:17px;color:#fff;letter-spacing:0.14px;">of something you have read on this ...</div>
<svg style="position:absolute;left:760px;top:1340px" width="400" height="520" viewBox="-396 -49.5 1980 2574"><g fill="none" stroke="#1c1c1c" stroke-width="5.2" stroke-linejoin="round" stroke-linecap="round"><path d="M1060.0 2234.5 C1062.0 2234.7 1066.7 2238.0 1072.0 2235.5 C1077.3 2233.0 1084.5 2228.8 1092.0 2219.5 C1099.5 2210.2 1112.0 2190.3 1117.0 2179.5 C1122.0 2168.7 1121.8 2165.3 1122.0 2154.5 C1122.2 2143.7 1120.5 2133.7 1118.0 2114.5 C1115.5 2095.3 1111.7 2068.7 1107.0 2039.5 C1102.3 2010.3 1093.5 1972.8 1090.0 1939.5 C1086.5 1906.2 1086.8 1872.8 1086.0 1839.5 C1085.2 1806.2 1084.8 1772.8 1085.0 1739.5 C1085.2 1706.2 1087.0 1672.8 1087.0 1639.5 C1087.0 1606.2 1087.0 1572.8 1085.0 1539.5 C1083.0 1506.2 1079.7 1471.2 1075.0 1439.5 C1070.3 1407.8 1062.5 1382.8 1057.0 1349.5 C1051.5 1316.2 1046.2 1274.5 1042.0 1239.5 C1037.8 1204.5 1034.0 1172.8 1032.0 1139.5 C1030.0 1106.2 1032.0 1062.8 1030.0 1039.5 C1028.0 1016.2 1023.3 1028.2 1020.0 1000.0 C1016.7 971.8 1013.8 901.7 1010.0 870.0 C1006.2 838.3 1002.5 825.8 997.0 810.0 C991.5 794.2 986.2 786.3 977.0 775.0 C967.8 763.7 956.2 751.7 942.0 742.0 C927.8 732.3 912.0 725.2 892.0 717.0 C872.0 708.8 845.3 700.8 822.0 693.0 C798.7 685.2 770.3 677.2 752.0 670.0 C733.7 662.8 722.8 657.0 712.0 650.0 C701.2 643.0 692.3 636.3 687.0 628.0 C681.7 619.7 681.3 613.0 680.0 600.0 C678.7 587.0 678.8 566.7 679.0 550.0 C679.2 533.3 677.2 512.5 681.0 500.0 C684.8 487.5 695.2 485.0 702.0 475.0 C708.8 465.0 716.2 453.3 722.0 440.0 C727.8 426.7 732.8 404.8 737.0 395.0 C741.2 385.2 743.8 384.8 747.0 381.0 C750.2 377.2 752.5 380.5 756.0 372.0 C759.5 363.5 765.0 345.3 768.0 330.0 C771.0 314.7 774.2 292.3 774.0 280.0 C773.8 267.7 770.3 260.8 767.0 256.0 C763.7 251.2 757.7 252.0 754.0 251.0 C750.3 250.0 748.7 265.2 745.0 250.0 C741.3 234.8 739.2 184.2 732.0 160.0 C724.8 135.8 715.3 119.5 702.0 105.0 C688.7 90.5 669.7 79.8 652.0 73.0 C634.3 66.2 614.7 64.0 596.0 64.0 C577.3 64.0 557.7 66.2 540.0 73.0 C522.3 79.8 503.3 90.5 490.0 105.0 C476.7 119.5 467.2 135.8 460.0 160.0 C452.8 184.2 450.7 234.8 447.0 250.0 C443.3 265.2 441.7 250.0 438.0 251.0 C434.3 252.0 428.3 251.2 425.0 256.0 C421.7 260.8 418.2 267.7 418.0 280.0 C417.8 292.3 421.0 314.7 424.0 330.0 C427.0 345.3 432.5 363.5 436.0 372.0 C439.5 380.5 441.8 377.2 445.0 381.0 C448.2 384.8 450.8 385.2 455.0 395.0 C459.2 404.8 464.2 426.7 470.0 440.0 C475.8 453.3 483.2 465.0 490.0 475.0 C496.8 485.0 507.2 487.5 511.0 500.0 C514.8 512.5 512.8 533.3 513.0 550.0 C513.2 566.7 513.3 587.0 512.0 600.0 C510.7 613.0 510.3 619.7 505.0 628.0 C499.7 636.3 490.8 643.0 480.0 650.0 C469.2 657.0 458.3 662.8 440.0 670.0 C421.7 677.2 393.3 685.2 370.0 693.0 C346.7 700.8 320.0 708.8 300.0 717.0 C280.0 725.2 264.2 732.3 250.0 742.0 C235.8 751.7 224.2 763.7 215.0 775.0 C205.8 786.3 200.5 794.2 195.0 810.0 C189.5 825.8 185.8 838.3 182.0 870.0 C178.2 901.7 175.3 971.8 172.0 1000.0 C168.7 1028.2 164.0 1016.2 162.0 1039.5 C160.0 1062.8 162.0 1106.2 160.0 1139.5 C158.0 1172.8 154.2 1204.5 150.0 1239.5 C145.8 1274.5 140.5 1316.2 135.0 1349.5 C129.5 1382.8 121.7 1407.8 117.0 1439.5 C112.3 1471.2 109.0 1506.2 107.0 1539.5 C105.0 1572.8 105.0 1606.2 105.0 1639.5 C105.0 1672.8 106.8 1706.2 107.0 1739.5 C107.2 1772.8 106.8 1806.2 106.0 1839.5 C105.2 1872.8 105.5 1906.2 102.0 1939.5 C98.5 1972.8 89.7 2010.3 85.0 2039.5 C80.3 2068.7 76.5 2095.3 74.0 2114.5 C71.5 2133.7 69.8 2143.7 70.0 2154.5 C70.2 2165.3 70.0 2168.7 75.0 2179.5 C80.0 2190.3 92.5 2210.2 100.0 2219.5 C107.5 2228.8 114.7 2233.0 120.0 2235.5 C125.3 2238.0 130.0 2234.7 132.0 2234.5"/><path d="M131.0 2211.5 C134.2 2214.0 141.8 2222.0 150.0 2226.5 C158.2 2231.0 170.5 2238.5 180.0 2238.5 C189.5 2238.5 201.0 2231.8 207.0 2226.5 C213.0 2221.2 214.5 2209.8 216.0 2206.5"/><path d="M1061.0 2211.5 C1057.8 2214.0 1050.2 2222.0 1042.0 2226.5 C1033.8 2231.0 1021.5 2238.5 1012.0 2238.5 C1002.5 2238.5 991.0 2231.8 985.0 2226.5 C979.0 2221.2 977.5 2209.8 976.0 2206.5"/><path d="M216.0 2206.5 C214.0 2204.7 206.0 2197.3 204.0 2195.5"/><path d="M976.0 2206.5 C978.0 2204.7 986.0 2197.3 988.0 2195.5"/><path d="M204.0 2195.5 C207.3 2193.2 224.7 2188.3 224.0 2181.5 C223.3 2174.7 207.3 2164.8 200.0 2154.5 C192.7 2144.2 184.7 2132.0 180.0 2119.5 C175.3 2107.0 172.8 2097.0 172.0 2079.5 C171.2 2062.0 175.3 2033.7 175.0 2014.5 C174.7 1995.3 171.8 1978.7 170.0 1964.5 C168.2 1950.3 164.5 1942.0 164.0 1929.5 C163.5 1917.0 163.5 1907.8 167.0 1889.5 C170.5 1871.2 177.0 1848.7 185.0 1819.5 C193.0 1790.3 205.8 1748.7 215.0 1714.5 C224.2 1680.3 234.2 1647.8 240.0 1614.5 C245.8 1581.2 249.0 1543.7 250.0 1514.5 C251.0 1485.3 245.7 1462.0 246.0 1439.5 C246.3 1417.0 246.3 1408.7 252.0 1379.5 C257.7 1350.3 270.3 1304.5 280.0 1264.5 C289.7 1224.5 303.2 1171.3 310.0 1139.5 C316.8 1107.7 319.2 1084.5 321.0 1073.5"/><path d="M988.0 2195.5 C984.7 2193.2 967.3 2188.3 968.0 2181.5 C968.7 2174.7 984.7 2164.8 992.0 2154.5 C999.3 2144.2 1007.3 2132.0 1012.0 2119.5 C1016.7 2107.0 1019.2 2097.0 1020.0 2079.5 C1020.8 2062.0 1016.7 2033.7 1017.0 2014.5 C1017.3 1995.3 1020.2 1978.7 1022.0 1964.5 C1023.8 1950.3 1027.5 1942.0 1028.0 1929.5 C1028.5 1917.0 1028.5 1907.8 1025.0 1889.5 C1021.5 1871.2 1015.0 1848.7 1007.0 1819.5 C999.0 1790.3 986.2 1748.7 977.0 1714.5 C967.8 1680.3 957.8 1647.8 952.0 1614.5 C946.2 1581.2 943.0 1543.7 942.0 1514.5 C941.0 1485.3 946.3 1462.0 946.0 1439.5 C945.7 1417.0 945.7 1408.7 940.0 1379.5 C934.3 1350.3 921.7 1304.5 912.0 1264.5 C902.3 1224.5 888.8 1171.3 882.0 1139.5 C875.2 1107.7 872.8 1084.5 871.0 1073.5"/><path d="M321.0 1073.5 C321.8 1078.7 322.8 1091.0 326.0 1104.5 C329.2 1118.0 333.5 1139.5 340.0 1154.5 C346.5 1169.5 358.3 1176.2 365.0 1194.5 C371.7 1212.8 375.8 1238.7 380.0 1264.5 C384.2 1290.3 388.5 1327.0 390.0 1349.5 C391.5 1372.0 395.7 1374.5 389.0 1399.5 C382.3 1424.5 363.2 1463.7 350.0 1499.5 C336.8 1535.3 323.3 1574.5 310.0 1614.5 C296.7 1654.5 279.7 1702.0 270.0 1739.5 C260.3 1777.0 255.8 1806.2 252.0 1839.5 C248.2 1872.8 245.7 1906.2 247.0 1939.5 C248.3 1972.8 254.5 2002.0 260.0 2039.5 C265.5 2077.0 273.3 2116.7 280.0 2164.5 C286.7 2212.3 293.3 2282.5 300.0 2326.5 C306.7 2370.5 316.7 2411.5 320.0 2428.5"/><path d="M871.0 1073.5 C870.2 1078.7 869.2 1091.0 866.0 1104.5 C862.8 1118.0 858.5 1139.5 852.0 1154.5 C845.5 1169.5 833.7 1176.2 827.0 1194.5 C820.3 1212.8 816.2 1238.7 812.0 1264.5 C807.8 1290.3 803.5 1327.0 802.0 1349.5 C800.5 1372.0 796.3 1374.5 803.0 1399.5 C809.7 1424.5 828.8 1463.7 842.0 1499.5 C855.2 1535.3 868.7 1574.5 882.0 1614.5 C895.3 1654.5 912.3 1702.0 922.0 1739.5 C931.7 1777.0 936.2 1806.2 940.0 1839.5 C943.8 1872.8 946.3 1906.2 945.0 1939.5 C943.7 1972.8 937.5 2002.0 932.0 2039.5 C926.5 2077.0 918.7 2116.7 912.0 2164.5 C905.3 2212.3 898.7 2282.5 892.0 2326.5 C885.3 2370.5 875.3 2411.5 872.0 2428.5"/><path d="M320 2428.5 H562 L596 2116 L630 2428.5 H872"/></g><g fill="#c6e1e9"><circle cx="517" cy="143" r="26"/><circle cx="546" cy="134" r="21"/><circle cx="599" cy="122" r="27"/><circle cx="654" cy="134" r="21"/><circle cx="683" cy="157" r="29"/><circle cx="698" cy="195" r="21"/><circle cx="677" cy="236" r="24"/><circle cx="642" cy="254" r="20"/><circle cx="584" cy="245" r="29"/><circle cx="546" cy="251" r="23"/><circle cx="517" cy="230" r="24"/><circle cx="500" cy="195" r="24"/><ellipse cx="600" cy="190" rx="100" ry="66"/></g><g fill="none" stroke="#fff" stroke-width="7" stroke-linecap="round"><path d="M546.0 134.0 C541.2 138.8 523.3 153.3 517.0 163.0 C510.7 172.7 507.0 182.7 508.0 192.0 C509.0 201.3 515.7 212.7 523.0 219.0 C530.3 225.3 547.2 228.2 552.0 230.0"/><path d="M552.0 181.0 C554.0 177.0 559.3 169.5 564.0 171.0 C568.7 172.5 574.7 189.8 580.0 190.0 C585.3 190.2 589.5 174.0 596.0 172.0 C602.5 170.0 612.7 172.2 619.0 178.0 C625.3 183.8 633.0 198.8 634.0 207.0 C635.0 215.2 630.3 224.0 625.0 227.0 C619.7 230.0 608.8 224.0 602.0 225.0 C595.2 226.0 590.8 233.5 584.0 233.0 C577.2 232.5 566.3 228.3 561.0 222.0 C555.7 215.7 553.5 201.8 552.0 195.0 C550.5 188.2 550.0 185.0 552.0 181.0 Z"/><path d="M590.0 166.0 C592.0 163.7 596.2 154.8 602.0 152.0 C607.8 149.2 618.3 148.5 625.0 149.0 C631.7 149.5 635.2 154.0 642.0 155.0 C648.8 156.0 659.7 151.2 666.0 155.0 C672.3 158.8 678.2 170.3 680.0 178.0 C681.8 185.7 681.3 195.2 677.0 201.0 C672.7 206.8 660.7 211.5 654.0 213.0 C647.3 214.5 639.8 210.5 637.0 210.0"/><path d="M637.0 213.0 C644.7 212.0 673.3 205.0 683.0 207.0 C692.7 209.0 695.0 218.2 695.0 225.0 C695.0 231.8 688.8 243.7 683.0 248.0 C677.2 252.3 666.3 252.0 660.0 251.0 C653.7 250.0 650.8 242.5 645.0 242.0 C639.2 241.5 628.3 247.0 625.0 248.0"/><path d="M546.0 137.0 C549.5 136.0 560.7 131.0 567.0 131.0 C573.3 131.0 577.3 136.5 584.0 137.0 C590.7 137.5 599.2 133.5 607.0 134.0 C614.8 134.5 627.0 139.0 631.0 140.0"/></g><g fill="none" stroke="#c6e1e9" stroke-linecap="butt"><path d="M595 674 V805" stroke-width="36"/><path d="M595 795 L566 846 M595 795 L628 838" stroke-width="16"/></g><path d="M577 674 V805 M613 674 V805" stroke="#a9c9d3" stroke-width="2" fill="none"/><path d="M535 781 C500 775 440 830 405 910 C375 985 365 1080 378 1150 C383 1170 395 1173 420 1169 C470 1160 530 1130 565 1092 C581 1060 581 1000 579 950 C579 880 575 822 556 790 C549 783 542 782 535 781 Z" fill="#f23234"/><path d="M657 781 C692 775 752 830 787 910 C817 985 827 1080 814 1150 C809 1170 797 1173 772 1169 C740 1163 715 1152 700 1140 L640 1000 C620 950 613 880 617 850 C620 810 635 785 657 781 Z" fill="#66cc75"/><path d="M620 1134.5 L652 1139.5 C657 1179.5 672 1204.5 702 1214.5 C762 1209.5 797 1259.5 790 1324.5 C783 1384.5 740 1424.5 680 1421.5 C630 1419.5 600 1391.5 560 1386.5 C530 1383.5 518 1396.5 518 1421.5 L520 1539.5 L488 1539.5 L482 1411.5 C480 1361.5 520 1341.5 570 1344.5 C610 1346.5 640 1341.5 655 1321.5 C675 1296.5 662 1256.5 650 1231.5 C638 1204.5 626 1179.5 620 1134.5 Z" fill="#7070d9"/><path d="M585 990 L578 945 L598 925 L607 950 L626 918 L652 925 L662 942 L692 950 L702 975 L717 985 L700 1012 Z" fill="#f23234" stroke="#7a1616" stroke-width="2"/><path d="M600 962 C575 992 560 1040 568 1087 C578 1132 620 1166 660 1165 C700 1160 726 1110 722 1060 C718 1010 690 975 655 952 C640 938 615 942 600 962 Z" fill="#f23234" stroke="#7a1616" stroke-width="2"/><path d="M556 1030 C552 1000 560 975 580 962" fill="none" stroke="#7a1616" stroke-width="2"/><g fill="none" stroke="#66cc75" stroke-width="6" stroke-linecap="round"><path d="M640 1135 C648 1090 682 1050 682 1005 C680 980 664 968 690 955"/><path d="M682 1020 C700 1040 712 1060 708 1090 M660 1085 C640 1075 620 1075 605 1078"/></g><g fill="none" stroke="#fff" stroke-width="4" stroke-linecap="round"><path d="M598 1068 L625 1080 L600 1090 M625 1080 L640 1078 M580 965 L605 972"/></g><path d="M410 1204.5 C440 1189.5 520 1189.5 556 1196.5 C571 1229.5 576 1269.5 566 1304.5 C541 1324.5 500 1329.5 470 1349.5 C445 1369.5 425 1385.5 410 1379.5 C393 1339.5 390 1259.5 410 1204.5 Z" fill="#66cc75"/><path d="M582 1194.5 L655 1194.5 C660 1216.5 640 1256.5 600 1289.5 C592 1295.5 582 1298.5 576 1298.5 C580 1264.5 582 1229.5 582 1194.5 Z" fill="#66cc75"/><path d="M550 1191.5 L570 1234.5 L588 1191.5 M570 1234.5 L569 1301.5" stroke="#fff" stroke-width="5" fill="none"/><ellipse cx="497" cy="1331.5" rx="36" ry="21" transform="rotate(-35 497 1331.5)" fill="#66cc75" stroke="#2f7a3c" stroke-width="2.5"/><path d="M470 1339.5 C490 1309.5 515 1297.5 530 1304.5" stroke="#2f7a3c" stroke-width="2.5" fill="none"/><path d="M560 1449.5 C600 1434.5 680 1434.5 740 1439.5 C745 1459.5 720 1469.5 690 1471.5 C660 1474.5 632 1484.5 622 1504.5 C610 1529.5 580 1534.5 560 1519.5 C545 1504.5 545 1464.5 560 1449.5 Z" fill="#66cc75"/><path d="M575 1504.5 C590 1469.5 640 1451.5 720 1449.5 M600 1471.5 L590 1454.5 M625 1459.5 L640 1474.5 M655 1452.5 L650 1439.5 M685 1450.5 L695 1461.5 M585 1489.5 L600 1499.5" stroke="#2f6a3c" stroke-width="3" fill="none"/><path d="M447 1528.5 C520 1575.5 650 1575.5 749 1524.5 L760 1599.5 C790 1599.5 803 1639.5 800 1739.5 C830 1764.5 830 1829.5 795 1851.5 C740 1869.5 680 1854.5 640 1839.5 C615 1834.5 610 1849.5 610 1899.5 L570 1899.5 L570 1829.5 C570 1799.5 600 1784.5 640 1794.5 C680 1809.5 740 1814.5 755 1799.5 C720 1779.5 712 1679.5 712 1624.5 C640 1639.5 540 1639.5 492 1624.5 C495 1679.5 500 1759.5 480 1794.5 C450 1814.5 400 1804.5 390 1769.5 C380 1719.5 385 1639.5 395 1599.5 L440 1584.5 Z" fill="#7070d9"/><g fill="none" stroke="#fff" stroke-width="4" stroke-linecap="round"><path d="M460 1574.5 C520 1594.5 640 1594.5 735 1564.5"/><path d="M440 1629.5 L440 1779.5 M755 1629.5 L762 1739.5 M700 1809.5 L800 1794.5"/></g><path d="M498 1631.5 C560 1639.5 640 1639.5 702 1627.5 L722 1784.5 C680 1789.5 620 1784.5 585 1799.5 L545 1807.5 L500 1781.5 Z" fill="#f23234"/><g fill="none" stroke="#a81c1c" stroke-width="2.5"><path d="M520 1659.5 C560 1644.5 560 1689.5 600 1669.5 C640 1649.5 640 1699.5 690 1659.5 M515 1709.5 C550 1689.5 570 1739.5 610 1709.5 C650 1689.5 660 1739.5 700 1709.5 M520 1759.5 C560 1739.5 580 1784.5 620 1754.5 C650 1739.5 680 1774.5 710 1754.5"/><path d="M545 1807.5 L500 1781.5 M585 1799.5 L545 1807.5" stroke="#5a1010" stroke-width="3"/></g><path d="M440.0 1464.5 C449.0 1465.8 462.3 1470.3 466.0 1479.5 C469.7 1488.7 464.3 1507.8 462.0 1519.5 C459.7 1531.2 455.7 1538.7 452.0 1549.5 C448.3 1560.3 446.2 1576.5 440.0 1584.5 C433.8 1592.5 424.2 1597.5 415.0 1597.5 C405.8 1597.5 392.0 1594.2 385.0 1584.5 C378.0 1574.8 373.0 1554.5 373.0 1539.5 C373.0 1524.5 378.5 1505.8 385.0 1494.5 C391.5 1483.2 402.8 1476.5 412.0 1471.5 C421.2 1466.5 431.0 1463.2 440.0 1464.5 Z" fill="#66cc75"/><path d="M756.0 1464.5 C747.0 1465.8 733.7 1470.3 730.0 1479.5 C726.3 1488.7 731.7 1507.8 734.0 1519.5 C736.3 1531.2 740.3 1538.7 744.0 1549.5 C747.7 1560.3 749.8 1576.5 756.0 1584.5 C762.2 1592.5 771.8 1597.5 781.0 1597.5 C790.2 1597.5 804.0 1594.2 811.0 1584.5 C818.0 1574.8 823.0 1554.5 823.0 1539.5 C823.0 1524.5 817.5 1505.8 811.0 1494.5 C804.5 1483.2 793.2 1476.5 784.0 1471.5 C774.8 1466.5 765.0 1463.2 756.0 1464.5 Z" fill="#66cc75"/><path d="M380 1519.5 C400 1544.5 430 1549.5 455 1534.5" stroke="#3e9a4e" stroke-width="2" fill="none"/><path d="M816 1519.5 C796 1544.5 766 1549.5 741 1534.5" stroke="#3e9a4e" stroke-width="2" fill="none"/><g fill="none" stroke="#66cc75" stroke-width="17" stroke-linecap="round"><path d="M452.0 1551.5 C457.5 1557.8 475.0 1573.2 485.0 1589.5 C495.0 1605.8 505.5 1627.8 512.0 1649.5 C518.5 1671.2 523.0 1697.8 524.0 1719.5 C525.0 1741.2 522.8 1761.2 518.0 1779.5 C513.2 1797.8 500.7 1814.5 495.0 1829.5 C489.3 1844.5 484.2 1856.5 484.0 1869.5 C483.8 1882.5 487.7 1897.8 494.0 1907.5 C500.3 1917.2 513.0 1922.8 522.0 1927.5 C531.0 1932.2 543.7 1934.2 548.0 1935.5"/><path d="M744.0 1551.5 C738.5 1557.8 721.0 1573.2 711.0 1589.5 C701.0 1605.8 690.5 1627.8 684.0 1649.5 C677.5 1671.2 673.0 1697.8 672.0 1719.5 C671.0 1741.2 673.2 1761.2 678.0 1779.5 C682.8 1797.8 695.3 1814.5 701.0 1829.5 C706.7 1844.5 711.8 1856.5 712.0 1869.5 C712.2 1882.5 708.3 1897.8 702.0 1907.5 C695.7 1917.2 683.0 1922.8 674.0 1927.5 C665.0 1932.2 652.3 1934.2 648.0 1935.5"/></g><g fill="none" stroke="#66cc75" stroke-linecap="butt"><path d="M505 1934.5 C545 1901.5 650 1901.5 690 1934.5" stroke-width="16"/><path d="M495.0 1921.5 C487.5 1923.2 462.5 1924.3 450.0 1931.5 C437.5 1938.7 425.3 1952.3 420.0 1964.5 C414.7 1976.7 414.7 1990.3 418.0 2004.5 C421.3 2018.7 436.3 2042.0 440.0 2049.5" stroke-width="28"/><path d="M701.0 1921.5 C708.5 1923.2 733.5 1924.3 746.0 1931.5 C758.5 1938.7 770.7 1952.3 776.0 1964.5 C781.3 1976.7 781.3 1990.3 778.0 2004.5 C774.7 2018.7 759.7 2042.0 756.0 2049.5" stroke-width="28"/><path d="M548 1974.5 L520 2014.5 M648 1974.5 L676 2014.5" stroke-width="16"/><path d="M560 1984.5 L584 2149.5 M636 1984.5 L612 2149.5" stroke-width="14"/><path d="M598 1989.5 V2079.5" stroke-width="12"/></g><path d="M533 1932.5 C560 1917.5 636 1917.5 663 1932.5 C660 1969.5 632 1991.5 598 1992.5 C564 1991.5 536 1969.5 533 1932.5 Z" fill="#66cc75" stroke="#3e9a4e" stroke-width="2"/><ellipse cx="487" cy="2039.5" rx="40" ry="28" transform="rotate(-30 487 2039.5)" fill="#66cc75"/><ellipse cx="709" cy="2039.5" rx="40" ry="28" transform="rotate(30 709 2039.5)" fill="#66cc75"/><g fill="none" stroke="#e22626" stroke-linecap="round" stroke-linejoin="round"><path d="M975.0 1176.5 C975.0 1188.3 975.7 1221.7 975.0 1247.5 C974.3 1273.3 972.7 1303.7 971.0 1331.5 C969.3 1359.3 965.7 1390.3 965.0 1414.5 C964.3 1438.7 964.7 1455.7 967.0 1476.5 C969.3 1497.3 972.8 1518.7 979.0 1539.5 C985.2 1560.3 996.3 1580.7 1004.0 1601.5 C1011.7 1622.3 1018.7 1647.0 1025.0 1664.5 C1031.3 1682.0 1039.2 1699.5 1042.0 1706.5" stroke-width="11"/><path d="M988.0 1172.5 C988.7 1185.0 990.7 1224.5 992.0 1247.5 C993.3 1270.5 996.7 1289.7 996.0 1310.5 C995.3 1331.3 990.0 1351.7 988.0 1372.5 C986.0 1393.3 983.3 1414.7 984.0 1435.5 C984.7 1456.3 987.2 1476.7 992.0 1497.5 C996.8 1518.3 1006.0 1539.7 1013.0 1560.5 C1020.0 1581.3 1028.8 1603.8 1034.0 1622.5 C1039.2 1641.2 1042.7 1658.5 1044.0 1672.5 C1045.3 1686.5 1042.3 1700.8 1042.0 1706.5" stroke-width="11"/><path d="M992.0 1176.5 C994.8 1184.8 1005.8 1207.7 1009.0 1226.5 C1012.2 1245.3 1011.8 1268.7 1011.0 1289.5 C1010.2 1310.3 1004.3 1330.7 1004.0 1351.5 C1003.7 1372.3 1007.5 1393.7 1009.0 1414.5 C1010.5 1435.3 1009.7 1455.7 1013.0 1476.5 C1016.3 1497.3 1024.2 1518.7 1029.0 1539.5 C1033.8 1560.3 1039.2 1582.0 1042.0 1601.5 C1044.8 1621.0 1045.3 1647.3 1046.0 1656.5" stroke-width="8"/><path d="M996.0 1185.5 C1000.2 1191.0 1014.7 1204.0 1021.0 1218.5 C1027.3 1233.0 1031.8 1263.5 1034.0 1272.5" stroke-width="5.5"/><path d="M996.0 1393.5 C1000.8 1397.0 1018.7 1401.3 1025.0 1414.5 C1031.3 1427.7 1032.5 1462.8 1034.0 1472.5" stroke-width="5.5"/><path d="M975.0 1214.5 C972.3 1215.8 963.5 1215.5 959.0 1222.5 C954.5 1229.5 949.8 1250.8 948.0 1256.5" stroke-width="5.5"/><path d="M971.0 1239.5 C968.7 1245.0 960.2 1262.8 957.0 1272.5 C953.8 1282.2 952.8 1293.3 952.0 1297.5" stroke-width="5.5"/><path d="M988.0 1310.5 C983.8 1313.2 969.0 1316.8 963.0 1326.5 C957.0 1336.2 953.8 1361.5 952.0 1368.5" stroke-width="5.5"/><path d="M979.0 1539.5 C982.5 1554.5 990.5 1602.8 1000.0 1629.5 C1009.5 1656.2 1030.0 1687.8 1036.0 1699.5" stroke-width="5.5"/><path d="M1013.0 1560.5 C1014.8 1573.7 1019.5 1617.2 1024.0 1639.5 C1028.5 1661.8 1037.3 1685.3 1040.0 1694.5" stroke-width="5.5"/><path d="M967.0 1179.5 C966.2 1183.7 962.8 1200.3 962.0 1204.5" stroke-width="5.5"/><path d="M980.0 1369.5 C978.7 1384.5 970.3 1427.8 972.0 1459.5 C973.7 1491.2 980.3 1522.8 990.0 1559.5 C999.7 1596.2 1023.3 1659.5 1030.0 1679.5" stroke-width="5.5"/></g></svg>
</body></html>
